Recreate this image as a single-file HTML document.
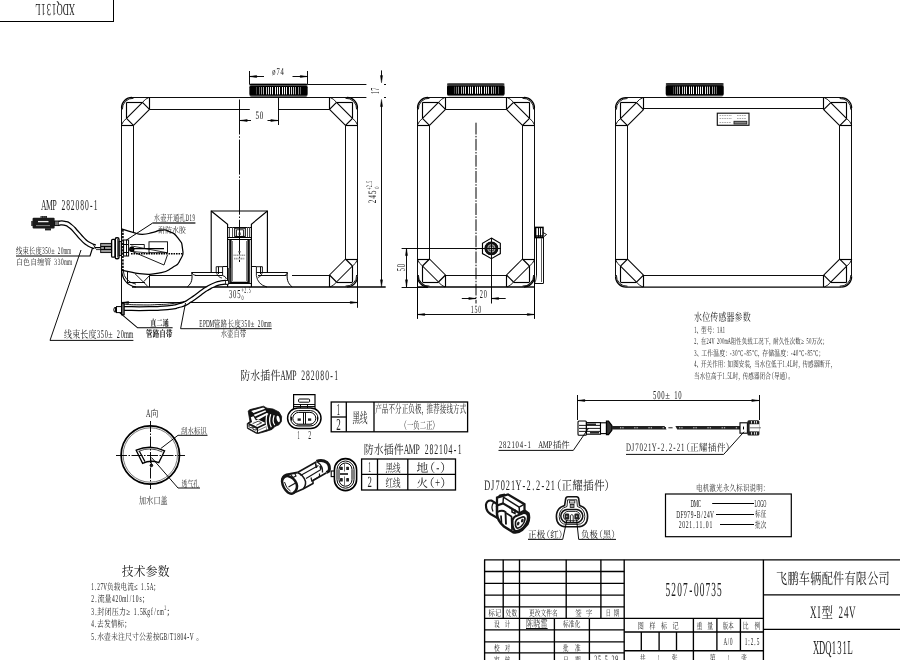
<!DOCTYPE html>
<html><head><meta charset="utf-8"><title>XDQ131L</title>
<style>html,body{margin:0;padding:0;background:#fff;overflow:hidden}svg{display:block}text{font-family:"Liberation Serif","Noto Serif CJK SC",serif;text-rendering:geometricPrecision}svg{will-change:transform}</style>
</head><body>
<svg width="900" height="660" viewBox="0 0 900 660" fill="none" stroke-linecap="butt" stroke-linejoin="miter">
<rect x="0" y="0" width="900" height="660" fill="#fff" stroke="none"/>
<path d="M149.50 97.40L149.50 109.40" stroke="#000" stroke-width="1.15" />
<path d="M121.50 125.50L133.50 125.50" stroke="#000" stroke-width="1.15" />
<path d="M149.50 109.40L133.50 125.40" stroke="#000" stroke-width="1.05" />
<path d="M142.50 102.40L126.50 118.40" stroke="#000" stroke-width="1.05" />
<path d="M142.50 102.40L149.50 109.40" stroke="#000" stroke-width="1.15" />
<path d="M126.50 118.40L133.50 125.40" stroke="#000" stroke-width="1.15" />
<path d="M126.50 102.50L142.50 102.50" stroke="#000" stroke-width="1.15" />
<path d="M126.50 102.40L126.50 118.40" stroke="#000" stroke-width="1.15" />
<path d="M121.50 107.90A10.5 10.5 0 0 1 132.00 97.40" stroke="#000" stroke-width="1.15" fill="none" />
<path d="M142.50 102.40Q145.00 98.90 149.00 97.40" stroke="#000" stroke-width="0.9" fill="none" />
<path d="M126.50 118.40Q123.00 120.90 121.50 124.90" stroke="#000" stroke-width="0.9" fill="none" />
<path d="M122.40 109.40A10.5 10.5 0 0 1 133.50 98.30" stroke="#000" stroke-width="0.9" fill="none" />
<path d="M329.50 97.40L329.50 109.40" stroke="#000" stroke-width="1.15" />
<path d="M357.50 125.50L345.50 125.50" stroke="#000" stroke-width="1.15" />
<path d="M329.50 109.40L345.50 125.40" stroke="#000" stroke-width="1.05" />
<path d="M336.50 102.40L352.50 118.40" stroke="#000" stroke-width="1.05" />
<path d="M336.50 102.40L329.50 109.40" stroke="#000" stroke-width="1.15" />
<path d="M352.50 118.40L345.50 125.40" stroke="#000" stroke-width="1.15" />
<path d="M352.50 102.50L336.50 102.50" stroke="#000" stroke-width="1.15" />
<path d="M352.50 102.40L352.50 118.40" stroke="#000" stroke-width="1.15" />
<path d="M357.50 107.90A10.5 10.5 0 0 0 347.00 97.40" stroke="#000" stroke-width="1.15" fill="none" />
<path d="M336.50 102.40Q334.00 98.90 330.00 97.40" stroke="#000" stroke-width="0.9" fill="none" />
<path d="M352.50 118.40Q356.00 120.90 357.50 124.90" stroke="#000" stroke-width="0.9" fill="none" />
<path d="M356.60 109.40A10.5 10.5 0 0 0 345.50 98.30" stroke="#000" stroke-width="0.9" fill="none" />
<path d="M329.50 287.00L329.50 275.00" stroke="#000" stroke-width="1.15" />
<path d="M357.50 259.50L345.50 259.50" stroke="#000" stroke-width="1.15" />
<path d="M329.50 275.00L345.50 259.00" stroke="#000" stroke-width="1.05" />
<path d="M336.50 282.00L352.50 266.00" stroke="#000" stroke-width="1.05" />
<path d="M336.50 282.00L329.50 275.00" stroke="#000" stroke-width="1.15" />
<path d="M352.50 266.00L345.50 259.00" stroke="#000" stroke-width="1.15" />
<path d="M352.50 282.50L336.50 282.50" stroke="#000" stroke-width="1.15" />
<path d="M352.50 282.00L352.50 266.00" stroke="#000" stroke-width="1.15" />
<path d="M357.50 276.50A10.5 10.5 0 0 1 347.00 287.00" stroke="#000" stroke-width="1.15" fill="none" />
<path d="M336.50 282.00Q334.00 285.50 330.00 287.00" stroke="#000" stroke-width="0.9" fill="none" />
<path d="M352.50 266.00Q356.00 263.50 357.50 259.50" stroke="#000" stroke-width="0.9" fill="none" />
<path d="M356.60 275.00A10.5 10.5 0 0 1 345.50 286.10" stroke="#000" stroke-width="0.9" fill="none" />
<path d="M132.00 97.50L347.00 97.50" stroke="#000" stroke-width="0.95" />
<path d="M357.50 107.90L357.50 276.50" stroke="#000" stroke-width="0.95" />
<path d="M121.50 107.90L121.50 303.80" stroke="#000" stroke-width="0.95" />
<path d="M132.00 287.00L385.70 287.00" stroke="#000" stroke-width="1.45" />
<path d="M357.50 276.50L357.50 307.80" stroke="#000" stroke-width="0.95" />
<path d="M149.50 109.50L249.80 109.50" stroke="#000" stroke-width="0.95" />
<path d="M278.00 109.50L329.50 109.50" stroke="#000" stroke-width="0.95" />
<path d="M345.50 125.40L345.50 259.00" stroke="#000" stroke-width="0.95" />
<path d="M133.50 125.40L133.50 232.00" stroke="#000" stroke-width="0.95" />
<path d="M329.50 275.50L292.00 275.50" stroke="#000" stroke-width="0.95" />
<path d="M149.40 275.50L191.70 275.50" stroke="#000" stroke-width="0.95" />
<rect x="249.50" y="83.80" width="58.00" height="13.10" rx="2" stroke="#000" stroke-width="0" fill="#666"/>
<rect x="249.50" y="83.70" width="58.00" height="1.20" rx="0.5" stroke="#000" stroke-width="0" fill="#000"/>
<rect x="249.50" y="85.70" width="58.00" height="9.90" rx="1.6" stroke="#000" stroke-width="0" fill="#000"/>
<path d="M256.50 87.00L256.50 94.40" stroke="#474747" stroke-width="1.0" />
<path d="M259.50 87.00L259.50 94.40" stroke="#737373" stroke-width="1.0" />
<path d="M261.50 87.00L261.50 94.40" stroke="#989898" stroke-width="1.0" />
<path d="M263.50 87.00L263.50 94.40" stroke="#b7b7b7" stroke-width="1.0" />
<path d="M266.50 87.00L266.50 94.40" stroke="#cfcfcf" stroke-width="1.0" />
<path d="M268.50 87.00L268.50 94.40" stroke="#e1e1e1" stroke-width="1.0" />
<path d="M270.50 87.00L270.50 94.40" stroke="#eeeeee" stroke-width="1.0" />
<path d="M272.50 87.00L272.50 94.40" stroke="#f7f7f7" stroke-width="1.0" />
<path d="M275.50 87.00L275.50 94.40" stroke="#fcfcfc" stroke-width="1.0" />
<path d="M277.50 87.00L277.50 94.40" stroke="#fefefe" stroke-width="1.0" />
<path d="M279.50 87.00L279.50 94.40" stroke="#fefefe" stroke-width="1.0" />
<path d="M282.50 87.00L282.50 94.40" stroke="#fefefe" stroke-width="1.0" />
<path d="M284.50 87.00L284.50 94.40" stroke="#fbfbfb" stroke-width="1.0" />
<path d="M286.50 87.00L286.50 94.40" stroke="#f5f5f5" stroke-width="1.0" />
<path d="M289.50 87.00L289.50 94.40" stroke="#ebebeb" stroke-width="1.0" />
<path d="M291.50 87.00L291.50 94.40" stroke="#dddddd" stroke-width="1.0" />
<path d="M293.50 87.00L293.50 94.40" stroke="#c9c9c9" stroke-width="1.0" />
<path d="M295.50 87.00L295.50 94.40" stroke="#afafaf" stroke-width="1.0" />
<path d="M298.50 87.00L298.50 94.40" stroke="#8f8f8f" stroke-width="1.0" />
<path d="M300.50 87.00L300.50 94.40" stroke="#686868" stroke-width="1.0" />
<path d="M445.50 97.40L445.50 109.40" stroke="#000" stroke-width="1.15" />
<path d="M417.50 125.50L429.50 125.50" stroke="#000" stroke-width="1.15" />
<path d="M445.50 109.40L429.50 125.40" stroke="#000" stroke-width="1.05" />
<path d="M438.50 102.40L422.50 118.40" stroke="#000" stroke-width="1.05" />
<path d="M438.50 102.40L445.50 109.40" stroke="#000" stroke-width="1.15" />
<path d="M422.50 118.40L429.50 125.40" stroke="#000" stroke-width="1.15" />
<path d="M422.50 102.50L438.50 102.50" stroke="#000" stroke-width="1.15" />
<path d="M422.50 102.40L422.50 118.40" stroke="#000" stroke-width="1.15" />
<path d="M417.50 107.90A10.5 10.5 0 0 1 428.00 97.40" stroke="#000" stroke-width="1.15" fill="none" />
<path d="M438.50 102.40Q441.00 98.90 445.00 97.40" stroke="#000" stroke-width="0.9" fill="none" />
<path d="M422.50 118.40Q419.00 120.90 417.50 124.90" stroke="#000" stroke-width="0.9" fill="none" />
<path d="M418.40 109.40A10.5 10.5 0 0 1 429.50 98.30" stroke="#000" stroke-width="0.9" fill="none" />
<path d="M506.50 97.40L506.50 109.40" stroke="#000" stroke-width="1.15" />
<path d="M534.50 125.50L522.50 125.50" stroke="#000" stroke-width="1.15" />
<path d="M506.50 109.40L522.50 125.40" stroke="#000" stroke-width="1.05" />
<path d="M513.50 102.40L529.50 118.40" stroke="#000" stroke-width="1.05" />
<path d="M513.50 102.40L506.50 109.40" stroke="#000" stroke-width="1.15" />
<path d="M529.50 118.40L522.50 125.40" stroke="#000" stroke-width="1.15" />
<path d="M529.50 102.50L513.50 102.50" stroke="#000" stroke-width="1.15" />
<path d="M529.50 102.40L529.50 118.40" stroke="#000" stroke-width="1.15" />
<path d="M534.50 107.90A10.5 10.5 0 0 0 524.00 97.40" stroke="#000" stroke-width="1.15" fill="none" />
<path d="M513.50 102.40Q511.00 98.90 507.00 97.40" stroke="#000" stroke-width="0.9" fill="none" />
<path d="M529.50 118.40Q533.00 120.90 534.50 124.90" stroke="#000" stroke-width="0.9" fill="none" />
<path d="M533.60 109.40A10.5 10.5 0 0 0 522.50 98.30" stroke="#000" stroke-width="0.9" fill="none" />
<path d="M506.50 287.00L506.50 275.00" stroke="#000" stroke-width="1.15" />
<path d="M534.50 259.50L522.50 259.50" stroke="#000" stroke-width="1.15" />
<path d="M506.50 275.00L522.50 259.00" stroke="#000" stroke-width="1.05" />
<path d="M513.50 282.00L529.50 266.00" stroke="#000" stroke-width="1.05" />
<path d="M513.50 282.00L506.50 275.00" stroke="#000" stroke-width="1.15" />
<path d="M529.50 266.00L522.50 259.00" stroke="#000" stroke-width="1.15" />
<path d="M529.50 282.50L513.50 282.50" stroke="#000" stroke-width="1.15" />
<path d="M529.50 282.00L529.50 266.00" stroke="#000" stroke-width="1.15" />
<path d="M534.50 276.50A10.5 10.5 0 0 1 524.00 287.00" stroke="#000" stroke-width="1.15" fill="none" />
<path d="M513.50 282.00Q511.00 285.50 507.00 287.00" stroke="#000" stroke-width="0.9" fill="none" />
<path d="M529.50 266.00Q533.00 263.50 534.50 259.50" stroke="#000" stroke-width="0.9" fill="none" />
<path d="M533.60 275.00A10.5 10.5 0 0 1 522.50 286.10" stroke="#000" stroke-width="0.9" fill="none" />
<path d="M445.50 287.00L445.50 275.00" stroke="#000" stroke-width="1.15" />
<path d="M417.50 259.50L429.50 259.50" stroke="#000" stroke-width="1.15" />
<path d="M445.50 275.00L429.50 259.00" stroke="#000" stroke-width="1.05" />
<path d="M438.50 282.00L422.50 266.00" stroke="#000" stroke-width="1.05" />
<path d="M438.50 282.00L445.50 275.00" stroke="#000" stroke-width="1.15" />
<path d="M422.50 266.00L429.50 259.00" stroke="#000" stroke-width="1.15" />
<path d="M422.50 282.50L438.50 282.50" stroke="#000" stroke-width="1.15" />
<path d="M422.50 282.00L422.50 266.00" stroke="#000" stroke-width="1.15" />
<path d="M417.50 276.50A10.5 10.5 0 0 0 428.00 287.00" stroke="#000" stroke-width="1.15" fill="none" />
<path d="M438.50 282.00Q441.00 285.50 445.00 287.00" stroke="#000" stroke-width="0.9" fill="none" />
<path d="M422.50 266.00Q419.00 263.50 417.50 259.50" stroke="#000" stroke-width="0.9" fill="none" />
<path d="M418.40 275.00A10.5 10.5 0 0 0 429.50 286.10" stroke="#000" stroke-width="0.9" fill="none" />
<path d="M428.00 97.50L524.00 97.50" stroke="#000" stroke-width="0.95" />
<path d="M428.00 287.00L524.00 287.00" stroke="#000" stroke-width="1.45" />
<path d="M417.50 107.90L417.50 276.50" stroke="#000" stroke-width="0.95" />
<path d="M534.50 107.90L534.50 276.50" stroke="#000" stroke-width="0.95" />
<path d="M445.50 109.50L506.50 109.50" stroke="#000" stroke-width="0.95" />
<path d="M445.50 275.50L506.50 275.50" stroke="#000" stroke-width="0.95" />
<path d="M429.50 125.40L429.50 259.00" stroke="#000" stroke-width="0.95" />
<path d="M522.50 125.40L522.50 259.00" stroke="#000" stroke-width="0.95" />
<rect x="447.00" y="83.50" width="57.50" height="12.80" rx="2" stroke="#000" stroke-width="0" fill="#666"/>
<rect x="447.00" y="83.40" width="57.50" height="1.20" rx="0.5" stroke="#000" stroke-width="0" fill="#000"/>
<rect x="447.00" y="85.40" width="57.50" height="9.60" rx="1.6" stroke="#000" stroke-width="0" fill="#000"/>
<path d="M454.50 86.70L454.50 93.80" stroke="#484848" stroke-width="1.0" />
<path d="M456.50 86.70L456.50 93.80" stroke="#747474" stroke-width="1.0" />
<path d="M458.50 86.70L458.50 93.80" stroke="#9a9a9a" stroke-width="1.0" />
<path d="M461.50 86.70L461.50 93.80" stroke="#b8b8b8" stroke-width="1.0" />
<path d="M463.50 86.70L463.50 93.80" stroke="#d0d0d0" stroke-width="1.0" />
<path d="M465.50 86.70L465.50 93.80" stroke="#e2e2e2" stroke-width="1.0" />
<path d="M468.50 86.70L468.50 93.80" stroke="#efefef" stroke-width="1.0" />
<path d="M470.50 86.70L470.50 93.80" stroke="#f8f8f8" stroke-width="1.0" />
<path d="M472.50 86.70L472.50 93.80" stroke="#fcfcfc" stroke-width="1.0" />
<path d="M475.50 86.70L475.50 93.80" stroke="#fefefe" stroke-width="1.0" />
<path d="M477.50 86.70L477.50 93.80" stroke="#fefefe" stroke-width="1.0" />
<path d="M479.50 86.70L479.50 93.80" stroke="#fefefe" stroke-width="1.0" />
<path d="M481.50 86.70L481.50 93.80" stroke="#fbfbfb" stroke-width="1.0" />
<path d="M484.50 86.70L484.50 93.80" stroke="#f4f4f4" stroke-width="1.0" />
<path d="M486.50 86.70L486.50 93.80" stroke="#eaeaea" stroke-width="1.0" />
<path d="M488.50 86.70L488.50 93.80" stroke="#dadada" stroke-width="1.0" />
<path d="M491.50 86.70L491.50 93.80" stroke="#c5c5c5" stroke-width="1.0" />
<path d="M493.50 86.70L493.50 93.80" stroke="#aaaaaa" stroke-width="1.0" />
<path d="M495.50 86.70L495.50 93.80" stroke="#898989" stroke-width="1.0" />
<path d="M498.50 86.70L498.50 93.80" stroke="#606060" stroke-width="1.0" />
<path d="M417.50 276.50L417.50 287.00" stroke="#000" stroke-width="0.95" />
<path d="M534.50 276.50L534.50 287.00" stroke="#000" stroke-width="0.95" />
<path d="M417.50 287.00L428.00 287.00" stroke="#000" stroke-width="1.45" />
<path d="M524.00 287.00L534.50 287.00" stroke="#000" stroke-width="1.45" />
<path d="M643.50 97.60L643.50 109.60" stroke="#000" stroke-width="1.15" />
<path d="M615.50 125.50L627.50 125.50" stroke="#000" stroke-width="1.15" />
<path d="M643.50 109.60L627.50 125.60" stroke="#000" stroke-width="1.05" />
<path d="M636.50 102.60L620.50 118.60" stroke="#000" stroke-width="1.05" />
<path d="M636.50 102.60L643.50 109.60" stroke="#000" stroke-width="1.15" />
<path d="M620.50 118.60L627.50 125.60" stroke="#000" stroke-width="1.15" />
<path d="M620.50 102.50L636.50 102.50" stroke="#000" stroke-width="1.15" />
<path d="M620.50 102.60L620.50 118.60" stroke="#000" stroke-width="1.15" />
<path d="M615.50 108.10A10.5 10.5 0 0 1 626.00 97.60" stroke="#000" stroke-width="1.15" fill="none" />
<path d="M636.50 102.60Q639.00 99.10 643.00 97.60" stroke="#000" stroke-width="0.9" fill="none" />
<path d="M620.50 118.60Q617.00 121.10 615.50 125.10" stroke="#000" stroke-width="0.9" fill="none" />
<path d="M616.40 109.60A10.5 10.5 0 0 1 627.50 98.50" stroke="#000" stroke-width="0.9" fill="none" />
<path d="M823.50 97.60L823.50 109.60" stroke="#000" stroke-width="1.15" />
<path d="M851.70 125.50L839.70 125.50" stroke="#000" stroke-width="1.15" />
<path d="M823.70 109.60L839.70 125.60" stroke="#000" stroke-width="1.05" />
<path d="M830.70 102.60L846.70 118.60" stroke="#000" stroke-width="1.05" />
<path d="M830.70 102.60L823.70 109.60" stroke="#000" stroke-width="1.15" />
<path d="M846.70 118.60L839.70 125.60" stroke="#000" stroke-width="1.15" />
<path d="M846.70 102.50L830.70 102.50" stroke="#000" stroke-width="1.15" />
<path d="M846.50 102.60L846.50 118.60" stroke="#000" stroke-width="1.15" />
<path d="M851.70 108.10A10.5 10.5 0 0 0 841.20 97.60" stroke="#000" stroke-width="1.15" fill="none" />
<path d="M830.70 102.60Q828.20 99.10 824.20 97.60" stroke="#000" stroke-width="0.9" fill="none" />
<path d="M846.70 118.60Q850.20 121.10 851.70 125.10" stroke="#000" stroke-width="0.9" fill="none" />
<path d="M850.80 109.60A10.5 10.5 0 0 0 839.70 98.50" stroke="#000" stroke-width="0.9" fill="none" />
<path d="M823.50 287.10L823.50 275.10" stroke="#000" stroke-width="1.15" />
<path d="M851.70 259.50L839.70 259.50" stroke="#000" stroke-width="1.15" />
<path d="M823.70 275.10L839.70 259.10" stroke="#000" stroke-width="1.05" />
<path d="M830.70 282.10L846.70 266.10" stroke="#000" stroke-width="1.05" />
<path d="M830.70 282.10L823.70 275.10" stroke="#000" stroke-width="1.15" />
<path d="M846.70 266.10L839.70 259.10" stroke="#000" stroke-width="1.15" />
<path d="M846.70 282.50L830.70 282.50" stroke="#000" stroke-width="1.15" />
<path d="M846.50 282.10L846.50 266.10" stroke="#000" stroke-width="1.15" />
<path d="M851.70 276.60A10.5 10.5 0 0 1 841.20 287.10" stroke="#000" stroke-width="1.15" fill="none" />
<path d="M830.70 282.10Q828.20 285.60 824.20 287.10" stroke="#000" stroke-width="0.9" fill="none" />
<path d="M846.70 266.10Q850.20 263.60 851.70 259.60" stroke="#000" stroke-width="0.9" fill="none" />
<path d="M850.80 275.10A10.5 10.5 0 0 1 839.70 286.20" stroke="#000" stroke-width="0.9" fill="none" />
<path d="M643.50 287.10L643.50 275.10" stroke="#000" stroke-width="1.15" />
<path d="M615.50 259.50L627.50 259.50" stroke="#000" stroke-width="1.15" />
<path d="M643.50 275.10L627.50 259.10" stroke="#000" stroke-width="1.05" />
<path d="M636.50 282.10L620.50 266.10" stroke="#000" stroke-width="1.05" />
<path d="M636.50 282.10L643.50 275.10" stroke="#000" stroke-width="1.15" />
<path d="M620.50 266.10L627.50 259.10" stroke="#000" stroke-width="1.15" />
<path d="M620.50 282.50L636.50 282.50" stroke="#000" stroke-width="1.15" />
<path d="M620.50 282.10L620.50 266.10" stroke="#000" stroke-width="1.15" />
<path d="M615.50 276.60A10.5 10.5 0 0 0 626.00 287.10" stroke="#000" stroke-width="1.15" fill="none" />
<path d="M636.50 282.10Q639.00 285.60 643.00 287.10" stroke="#000" stroke-width="0.9" fill="none" />
<path d="M620.50 266.10Q617.00 263.60 615.50 259.60" stroke="#000" stroke-width="0.9" fill="none" />
<path d="M616.40 275.10A10.5 10.5 0 0 0 627.50 286.20" stroke="#000" stroke-width="0.9" fill="none" />
<path d="M626.00 97.50L841.20 97.50" stroke="#000" stroke-width="0.95" />
<path d="M626.00 287.10L841.20 287.10" stroke="#000" stroke-width="1.45" />
<path d="M615.50 108.10L615.50 276.60" stroke="#000" stroke-width="0.95" />
<path d="M851.50 108.10L851.50 276.60" stroke="#000" stroke-width="0.95" />
<path d="M643.50 108.50L823.70 108.50" stroke="#000" stroke-width="0.95" />
<path d="M643.50 275.50L823.70 275.50" stroke="#000" stroke-width="0.95" />
<path d="M627.50 125.60L627.50 259.10" stroke="#000" stroke-width="0.95" />
<path d="M839.50 125.60L839.50 259.10" stroke="#000" stroke-width="0.95" />
<rect x="665.80" y="83.40" width="57.80" height="13.20" rx="2" stroke="#000" stroke-width="0" fill="#666"/>
<rect x="665.80" y="83.30" width="57.80" height="1.20" rx="0.5" stroke="#000" stroke-width="0" fill="#000"/>
<rect x="665.80" y="85.30" width="57.80" height="10.00" rx="1.6" stroke="#000" stroke-width="0" fill="#000"/>
<path d="M673.50 86.60L673.50 94.10" stroke="#474747" stroke-width="1.0" />
<path d="M675.50 86.60L675.50 94.10" stroke="#747474" stroke-width="1.0" />
<path d="M677.50 86.60L677.50 94.10" stroke="#999999" stroke-width="1.0" />
<path d="M679.50 86.60L679.50 94.10" stroke="#b7b7b7" stroke-width="1.0" />
<path d="M682.50 86.60L682.50 94.10" stroke="#cfcfcf" stroke-width="1.0" />
<path d="M684.50 86.60L684.50 94.10" stroke="#e2e2e2" stroke-width="1.0" />
<path d="M686.50 86.60L686.50 94.10" stroke="#efefef" stroke-width="1.0" />
<path d="M689.50 86.60L689.50 94.10" stroke="#f7f7f7" stroke-width="1.0" />
<path d="M691.50 86.60L691.50 94.10" stroke="#fcfcfc" stroke-width="1.0" />
<path d="M693.50 86.60L693.50 94.10" stroke="#fefefe" stroke-width="1.0" />
<path d="M696.50 86.60L696.50 94.10" stroke="#fefefe" stroke-width="1.0" />
<path d="M698.50 86.60L698.50 94.10" stroke="#fefefe" stroke-width="1.0" />
<path d="M700.50 86.60L700.50 94.10" stroke="#fbfbfb" stroke-width="1.0" />
<path d="M702.50 86.60L702.50 94.10" stroke="#f5f5f5" stroke-width="1.0" />
<path d="M705.50 86.60L705.50 94.10" stroke="#ebebeb" stroke-width="1.0" />
<path d="M707.50 86.60L707.50 94.10" stroke="#dcdcdc" stroke-width="1.0" />
<path d="M709.50 86.60L709.50 94.10" stroke="#c8c8c8" stroke-width="1.0" />
<path d="M712.50 86.60L712.50 94.10" stroke="#adadad" stroke-width="1.0" />
<path d="M714.50 86.60L714.50 94.10" stroke="#8d8d8d" stroke-width="1.0" />
<path d="M716.50 86.60L716.50 94.10" stroke="#656565" stroke-width="1.0" />
<rect x="717.30" y="113.20" width="31.70" height="12.10" rx="0" stroke="#111" stroke-width="1.15" fill="none"/>
<rect x="734.00" y="121.30" width="12.80" height="2.70" rx="0" stroke="#222" stroke-width="0.9" fill="#888"/>
<path d="M719.50 115.50L732.00 115.50" stroke="#aaa" stroke-width="1.0" stroke-dasharray="1.6 0.8"/>
<path d="M737.00 115.50L746.00 115.50" stroke="#aaa" stroke-width="1.0" stroke-dasharray="1.6 0.8"/>
<path d="M719.50 118.50L732.00 118.50" stroke="#aaa" stroke-width="1.0" stroke-dasharray="1.6 0.8"/>
<path d="M737.00 118.50L746.00 118.50" stroke="#aaa" stroke-width="1.0" stroke-dasharray="1.6 0.8"/>
<path d="M719.50 122.50L731.00 122.50" stroke="#aaa" stroke-width="1.0" stroke-dasharray="1.6 0.8"/>
<path d="M249.50 71.00L249.50 84.40" stroke="#000" stroke-width="0.95" />
<path d="M307.50 71.00L307.50 84.40" stroke="#000" stroke-width="0.95" />
<path d="M249.50 76.50L264.00 76.50" stroke="#000" stroke-width="0.95" />
<path d="M292.50 76.50L307.50 76.50" stroke="#000" stroke-width="0.95" />
<path d="M249.50 76.50L256.70 75.45L256.70 77.55Z" fill="#000" stroke="#000" stroke-width="0.45" stroke-linejoin="miter"/>
<path d="M307.50 76.50L300.30 77.55L300.30 75.45Z" fill="#000" stroke="#000" stroke-width="0.45" stroke-linejoin="miter"/>
<path d="M307.50 84.50L366.40 84.50" stroke="#000" stroke-width="0.95" />
<path d="M347.00 97.50L366.40 97.50" stroke="#000" stroke-width="0.95" />
<path d="M381.50 70.40L381.50 80.00" stroke="#000" stroke-width="0.95" />
<path d="M381.50 82.80L380.45 75.60L382.55 75.60Z" fill="#000" stroke="#000" stroke-width="0.45" stroke-linejoin="miter"/>
<path d="M381.50 102.00L381.50 283.00" stroke="#000" stroke-width="0.95" />
<path d="M381.50 99.40L382.55 106.60L380.45 106.60Z" fill="#000" stroke="#000" stroke-width="0.45" stroke-linejoin="miter"/>
<path d="M381.50 287.00L380.45 279.80L382.55 279.80Z" fill="#000" stroke="#000" stroke-width="0.45" stroke-linejoin="miter"/>
<path d="M384.00 84.50L386.00 84.50" stroke="#000" stroke-width="0.95" />
<path d="M384.00 97.50L386.00 97.50" stroke="#000" stroke-width="0.95" />
<path d="M239.50 99.50L239.50 262.00" stroke="#000" stroke-width="0.95" stroke-dasharray="35 1.8 1.5 1.8"/>
<path d="M278.50 97.40L278.50 125.00" stroke="#000" stroke-width="0.95" />
<path d="M240.00 120.50L251.00 120.50" stroke="#000" stroke-width="0.95" />
<path d="M267.50 120.50L278.00 120.50" stroke="#000" stroke-width="0.95" />
<path d="M240.00 120.50L247.20 119.45L247.20 121.55Z" fill="#000" stroke="#000" stroke-width="0.45" stroke-linejoin="miter"/>
<path d="M278.00 120.50L270.80 121.55L270.80 119.45Z" fill="#000" stroke="#000" stroke-width="0.45" stroke-linejoin="miter"/>
<path d="M121.50 302.50L357.50 302.50" stroke="#000" stroke-width="0.95" />
<path d="M121.50 302.50L128.70 301.45L128.70 303.55Z" fill="#000" stroke="#000" stroke-width="0.45" stroke-linejoin="miter"/>
<path d="M357.50 302.50L350.30 303.55L350.30 301.45Z" fill="#000" stroke="#000" stroke-width="0.45" stroke-linejoin="miter"/>
<path d="M476.00 122.70L476.00 303.50" stroke="#000" stroke-width="1.0" stroke-dasharray="11.8 1.4 1.5 1.4"/>
<path d="M401.60 248.50L501.00 248.50" stroke="#000" stroke-width="0.95" />
<path d="M401.60 287.50L428.00 287.50" stroke="#000" stroke-width="0.95" />
<path d="M406.50 248.40L406.50 287.00" stroke="#000" stroke-width="0.95" />
<path d="M406.50 248.40L407.55 255.60L405.45 255.60Z" fill="#000" stroke="#000" stroke-width="0.45" stroke-linejoin="miter"/>
<path d="M406.50 287.00L405.45 279.80L407.55 279.80Z" fill="#000" stroke="#000" stroke-width="0.45" stroke-linejoin="miter"/>
<path d="M491.50 238.00L491.50 303.50" stroke="#000" stroke-width="0.95" />
<path d="M461.80 298.50L476.00 298.50" stroke="#000" stroke-width="0.95" />
<path d="M491.40 298.50L505.70 298.50" stroke="#000" stroke-width="0.95" />
<path d="M476.00 298.50L468.80 299.55L468.80 297.45Z" fill="#000" stroke="#000" stroke-width="0.45" stroke-linejoin="miter"/>
<path d="M491.40 298.50L498.60 297.45L498.60 299.55Z" fill="#000" stroke="#000" stroke-width="0.45" stroke-linejoin="miter"/>
<path d="M417.50 276.00L417.50 318.90" stroke="#000" stroke-width="1.0" />
<path d="M534.50 276.00L534.50 318.90" stroke="#000" stroke-width="1.0" />
<path d="M417.50 314.50L534.50 314.50" stroke="#000" stroke-width="0.95" />
<path d="M417.50 314.50L424.70 313.45L424.70 315.55Z" fill="#000" stroke="#000" stroke-width="0.45" stroke-linejoin="miter"/>
<path d="M534.50 314.50L527.30 315.55L527.30 313.45Z" fill="#000" stroke="#000" stroke-width="0.45" stroke-linejoin="miter"/>
<path d="M577.50 395.00L577.50 420.00" stroke="#000" stroke-width="0.95" />
<path d="M759.50 395.00L759.50 420.00" stroke="#000" stroke-width="0.95" />
<path d="M577.60 400.50L759.00 400.50" stroke="#000" stroke-width="0.95" />
<path d="M577.60 400.50L584.80 399.45L584.80 401.55Z" fill="#000" stroke="#000" stroke-width="0.45" stroke-linejoin="miter"/>
<path d="M759.00 400.50L751.80 401.55L751.80 399.45Z" fill="#000" stroke="#000" stroke-width="0.45" stroke-linejoin="miter"/>
<path d="M121.5 268 Q121.8 284.5 136 287.0" stroke="#000" stroke-width="1.15" fill="none" />
<path d="M123.2 270.5 Q124 281.5 136 284.2" stroke="#000" stroke-width="0.9" fill="none" />
<path d="M127.50 271.70L127.50 282.30" stroke="#000" stroke-width="0.95" />
<path d="M127.00 282.50L145.00 282.50" stroke="#000" stroke-width="0.95" />
<path d="M135.00 273.70L147.70 286.30" stroke="#000" stroke-width="0.9" />
<path d="M149.40 275.70L143.70 281.70" stroke="#000" stroke-width="0.9" />
<path d="M149.50 275.50L149.50 287.00" stroke="#000" stroke-width="0.95" />
<path d="M121.50 228.90C125.33 230.03 126.07 230.50 133.00 232.30C139.93 234.10 135.57 234.30 142.30 234.30C149.03 234.30 146.87 233.67 153.20 232.30C159.53 230.93 155.87 230.43 161.30 230.20C166.73 229.97 164.03 229.10 169.50 231.60C174.97 234.10 173.37 232.03 177.70 237.70C182.03 243.37 181.60 241.33 182.50 248.60C183.40 255.87 183.83 253.13 180.40 259.50C176.97 265.87 179.47 263.13 172.20 267.70C164.93 272.27 168.57 271.17 158.60 273.20C148.63 275.23 151.83 274.27 142.30 273.80C132.77 273.33 136.83 273.00 130.00 271.80C123.17 270.60 124.53 270.73 121.80 270.20" stroke="#000" stroke-width="1.25" fill="none" />
<path d="M122.90 229.50L122.90 270.40" stroke="#000" stroke-width="1.6" stroke-dasharray="2.2 1.1"/>
<rect x="100.70" y="243.40" width="10.90" height="9.20" rx="0" stroke="#000" stroke-width="0.9" fill="#999"/>
<path d="M100.70 246.50L111.60 246.50" stroke="#000" stroke-width="0.95" />
<path d="M100.70 249.50L111.60 249.50" stroke="#000" stroke-width="0.95" />
<path d="M104.50 246.20L104.50 249.80" stroke="#000" stroke-width="1.2" />
<rect x="111.60" y="239.40" width="3.60" height="17.80" rx="1.2" stroke="#000" stroke-width="1.3" fill="none"/>
<rect x="115.20" y="237.80" width="3.80" height="21.00" rx="1.6" stroke="#000" stroke-width="1.4" fill="none"/>
<path d="M117.50 239.00L117.50 257.50" stroke="#555" stroke-width="0.95" />
<rect x="119.00" y="241.50" width="2.20" height="14.00" rx="0" stroke="#000" stroke-width="0.9" fill="none"/>
<rect x="123.60" y="240.00" width="5.00" height="16.00" rx="0" stroke="#000" stroke-width="1.0" fill="none"/>
<path d="M123.60 244.50L128.60 244.50" stroke="#000" stroke-width="0.95" />
<path d="M123.60 252.50L128.60 252.50" stroke="#000" stroke-width="0.95" />
<path d="M126.50 240.00L126.50 256.00" stroke="#000" stroke-width="0.95" />
<path d="M94.00 247.60L100.70 247.60" stroke="#000" stroke-width="1.2" />
<path d="M96.00 249.60L100.70 249.60" stroke="#000" stroke-width="0.8" />
<circle cx="131.80" cy="249.20" r="2.00" stroke="#000" stroke-width="1.4" fill="#222"/>
<path d="M130.00 244.50L144.30 244.50L144.30 248.20" stroke="#000" stroke-width="0.9" fill="none" />
<rect x="149.00" y="241.80" width="18.50" height="10.90" rx="0" stroke="#000" stroke-width="0.9" fill="none"/>
<path d="M131.00 248.60L164.00 248.60" stroke="#000" stroke-width="1.3" />
<path d="M131.00 253.80L182.50 253.80" stroke="#000" stroke-width="1.5" stroke-dasharray="1.6 0.9"/>
<path d="M131.30 245.90L166.80 252.70" stroke="#000" stroke-width="0.8" fill="none" />
<path d="M130.00 250.50L164.00 265.00L167.50 254.80" stroke="#000" stroke-width="0.9" fill="none" />
<path d="M133.00 251.50L150.00 253.20" stroke="#000" stroke-width="0.8" fill="none" />
<path d="M152.70 223.00L195.40 223.00" stroke="#333" stroke-width="1.3" />
<path d="M152.70 223.00L125.90 240.40" stroke="#000" stroke-width="1.0" fill="none" />
<path d="M211.20 272.70L211.20 211.00L267.40 211.00L267.40 272.70" stroke="#000" stroke-width="1.15" fill="none" />
<path d="M211.20 211.00L227.60 224.20L227.60 287.00" stroke="#000" stroke-width="1.15" fill="none" />
<path d="M267.40 211.00L251.40 224.20L251.40 287.00" stroke="#000" stroke-width="1.15" fill="none" />
<path d="M227.60 227.50L251.40 227.50" stroke="#000" stroke-width="0.95" />
<rect x="234.70" y="228.20" width="10.60" height="8.20" rx="0" stroke="#000" stroke-width="1.0" fill="none"/>
<rect x="236.60" y="229.80" width="6.80" height="6.60" rx="0" stroke="#000" stroke-width="0.8" fill="none"/>
<rect x="238.60" y="232.50" width="2.00" height="2.50" rx="0" stroke="#000" stroke-width="0" fill="#222"/>
<path d="M229.50 227.00L229.50 237.60" stroke="#444" stroke-width="0.95" />
<path d="M232.50 227.00L232.50 237.60" stroke="#444" stroke-width="0.95" />
<path d="M247.50 227.00L247.50 237.60" stroke="#444" stroke-width="0.95" />
<path d="M249.50 227.00L249.50 237.60" stroke="#444" stroke-width="0.95" />
<path d="M227.60 237.50L251.40 237.50" stroke="#000" stroke-width="1.0" />
<path d="M227.60 239.50L251.40 239.50" stroke="#000" stroke-width="1.0" />
<path d="M230.80 239.60L230.80 282.40L248.20 282.40L248.20 239.60" stroke="#000" stroke-width="1.5" fill="none" />
<path d="M229.50 239.60L229.50 283.00" stroke="#333" stroke-width="0.95" />
<path d="M249.50 239.60L249.50 283.00" stroke="#333" stroke-width="0.95" />
<path d="M232.50 241.00L232.50 281.00" stroke="#777" stroke-width="0.95" />
<path d="M246.50 241.00L246.50 281.00" stroke="#777" stroke-width="0.95" />
<path d="M227.60 283.50L251.40 283.50" stroke="#000" stroke-width="0.95" />
<rect x="228.00" y="268.00" width="2.40" height="14.00" rx="0" stroke="#000" stroke-width="0" fill="#444"/>
<path d="M238.00 251.80L241.00 251.80" stroke="#999" stroke-width="1.6" stroke-dasharray="1.2 0.5"/>
<path d="M233.50 255.20L245.50 255.20" stroke="#999" stroke-width="1.6" stroke-dasharray="1.2 0.5"/>
<path d="M234.00 258.60L244.50 258.60" stroke="#999" stroke-width="1.6" stroke-dasharray="1.2 0.5"/>
<path d="M216.20 272.70L216.20 266.70L222.60 266.70L222.60 275.50" stroke="#000" stroke-width="0.9" fill="none" />
<path d="M218.50 266.70L218.50 274.00" stroke="#000" stroke-width="0.95" />
<path d="M262.40 272.70L262.40 266.70L256.40 266.70L256.40 275.50" stroke="#000" stroke-width="0.9" fill="none" />
<path d="M260.50 266.70L260.50 274.00" stroke="#000" stroke-width="0.95" />
<path d="M191.70 272.50L223.00 272.50" stroke="#000" stroke-width="0.95" />
<path d="M195.00 275.50L222.60 275.50" stroke="#000" stroke-width="0.95" />
<path d="M191.7 272.5 Q193 275.5 196 275.5" stroke="#000" stroke-width="0.9" fill="none" />
<path d="M191.7 272.5 C192.6 279 192 283 187.2 287.0" stroke="#000" stroke-width="1.0" fill="none" />
<path d="M222.60 266.50L227.60 266.50" stroke="#000" stroke-width="0.95" />
<path d="M251.40 266.50L256.40 266.50" stroke="#000" stroke-width="0.95" />
<path d="M222.6 275.5 Q225.5 276 226.5 279" stroke="#000" stroke-width="0.9" fill="none" />
<path d="M216.5 272.7 Q218 277.5 222 278" stroke="#000" stroke-width="0.8" fill="none" />
<path d="M256.40 272.50L287.40 272.50" stroke="#000" stroke-width="0.95" />
<path d="M258.00 275.50L286.50 275.50" stroke="#000" stroke-width="0.95" />
<path d="M256.4 275.5 Q257.5 284.5 267 287.0" stroke="#000" stroke-width="0.9" fill="none" />
<path d="M262.4 272.7 Q261 277 258 277.5" stroke="#000" stroke-width="0.8" fill="none" />
<path d="M287.4 272.5 C286.6 279 287.4 283 292.2 287.0" stroke="#000" stroke-width="1.0" fill="none" />
<path d="M287.4 272.5 Q287 275 284.5 275.5" stroke="#000" stroke-width="0.8" fill="none" />
<path d="M228.00 282.40C225.67 282.53 225.67 281.93 221.00 282.80C216.33 283.67 218.33 283.27 214.00 285.00C209.67 286.73 211.67 285.90 208.00 288.00C204.33 290.10 207.00 288.47 203.00 291.30C199.00 294.13 200.33 293.43 196.00 296.50C191.67 299.57 193.67 298.13 190.00 300.50C186.33 302.87 189.00 301.80 185.00 303.60C181.00 305.40 182.43 304.67 178.00 305.90C173.57 307.13 177.70 306.50 171.70 307.30C165.70 308.10 167.43 307.87 160.00 308.30C152.57 308.73 161.40 308.50 149.40 308.60C137.40 308.70 132.47 308.60 124.00 308.60" stroke="#000" stroke-width="5.0" fill="none" />
<path d="M228.00 282.40C225.67 282.53 225.67 281.93 221.00 282.80C216.33 283.67 218.33 283.27 214.00 285.00C209.67 286.73 211.67 285.90 208.00 288.00C204.33 290.10 207.00 288.47 203.00 291.30C199.00 294.13 200.33 293.43 196.00 296.50C191.67 299.57 193.67 298.13 190.00 300.50C186.33 302.87 189.00 301.80 185.00 303.60C181.00 305.40 182.43 304.67 178.00 305.90C173.57 307.13 177.70 306.50 171.70 307.30C165.70 308.10 167.43 307.87 160.00 308.30C152.57 308.73 161.40 308.50 149.40 308.60C137.40 308.70 132.47 308.60 124.00 308.60" stroke="#fff" stroke-width="2.5" fill="none" />
<rect x="225.60" y="280.60" width="2.80" height="3.60" rx="0" stroke="#000" stroke-width="0.8" fill="#fff"/>
<path d="M123.80 304.20C129.20 304.43 128.60 304.77 140.00 304.90C151.40 305.03 147.33 305.03 158.00 304.60C168.67 304.17 163.33 304.60 172.00 303.60C180.67 302.60 180.00 302.27 184.00 301.60" stroke="#000" stroke-width="0.9" fill="none" />
<rect x="116.50" y="306.60" width="5.10" height="6.00" rx="0" stroke="#000" stroke-width="1.0" fill="#fff"/>
<rect x="121.50" y="303.60" width="2.70" height="11.20" rx="0" stroke="#000" stroke-width="1.0" fill="#666"/>
<path d="M116.5 307.4 L114.4 307.6 Q113.1 309.7 114.4 311.9 L116.5 312 Z" stroke="#000" stroke-width="1.0" fill="#fff" />
<path d="M115.50 307.60L115.50 311.90" stroke="#000" stroke-width="0.95" />
<path d="M119.60 312.60L137.60 327.80L172.60 327.80" stroke="#000" stroke-width="1.1" fill="none" />
<path d="M185.50 303.00L180.60 328.70L271.70 328.70" stroke="#000" stroke-width="0.95" fill="none" />
<path d="M16.00 256.00L90.00 256.00L93.00 246.50" stroke="#000" stroke-width="1.15" fill="none" />
<path d="M133.40 340.40L50.00 340.40L81.00 250.00" stroke="#000" stroke-width="0.95" fill="none" />
<rect x="32.60" y="217.80" width="22.00" height="10.80" rx="1" stroke="#000" stroke-width="0" fill="#1a1a1a"/>
<rect x="40.50" y="216.00" width="6.50" height="2.20" rx="0" stroke="#000" stroke-width="0" fill="#222"/>
<rect x="45.00" y="228.20" width="6.00" height="2.20" rx="0" stroke="#000" stroke-width="0" fill="#222"/>
<rect x="31.20" y="221.00" width="1.80" height="5.00" rx="0" stroke="#000" stroke-width="0" fill="#333"/>
<path d="M38.00 221.60L48.50 221.60" stroke="#eee" stroke-width="1.3" />
<path d="M36.00 225.60L50.00 225.60" stroke="#999" stroke-width="0.8" />
<path d="M41.00 217.00L46.50 217.00" stroke="#bbb" stroke-width="0.7" stroke-dasharray="1 0.8"/>
<rect x="54.60" y="221.00" width="4.20" height="4.60" rx="0" stroke="#000" stroke-width="0.9" fill="#777"/>
<path d="M58.80 223.30C60.70 223.27 60.60 222.23 64.50 223.20C68.40 224.17 66.50 223.17 70.50 226.20C74.50 229.23 72.50 228.03 76.50 232.30C80.50 236.57 78.50 235.10 82.50 239.00C86.50 242.90 84.33 241.40 88.50 244.00C92.67 246.60 92.83 245.87 95.00 246.80" stroke="#000" stroke-width="5.2" fill="none" />
<path d="M58.80 223.30C60.70 223.27 60.60 222.23 64.50 223.20C68.40 224.17 66.50 223.17 70.50 226.20C74.50 229.23 72.50 228.03 76.50 232.30C80.50 236.57 78.50 235.10 82.50 239.00C86.50 242.90 84.33 241.40 88.50 244.00C92.67 246.60 92.83 245.87 95.00 246.80" stroke="#fff" stroke-width="2.7" fill="none" />
<path d="M93.20 244.20L95.60 248.60" stroke="#000" stroke-width="0.9" fill="none" />
<path d="M491.40 238.10L500.32 243.25L500.32 253.55L491.40 258.70L482.48 253.55L482.48 243.25Z" stroke="#000" stroke-width="1.15" fill="#fff" />
<circle cx="491.40" cy="248.40" r="5.50" stroke="#111" stroke-width="2.9" fill="none"/>
<circle cx="491.40" cy="248.40" r="2.60" stroke="#555" stroke-width="1.4" fill="#bbb"/>
<circle cx="491.40" cy="248.40" r="3.90" stroke="#888" stroke-width="0.8" fill="none"/>
<path d="M481.40 248.50L500.60 248.50" stroke="#000" stroke-width="0.95" />
<path d="M491.50 238.10L491.50 258.70" stroke="#000" stroke-width="0.95" />
<circle cx="491.40" cy="248.40" r="5.50" stroke="#111" stroke-width="2.4" fill="none"/>
<rect x="535.60" y="227.40" width="7.40" height="10.20" rx="0" stroke="#000" stroke-width="1.5" fill="#fff"/>
<path d="M538.50 227.40L538.50 237.00" stroke="#000" stroke-width="0.95" />
<path d="M540.50 227.40L540.50 237.00" stroke="#000" stroke-width="0.95" />
<path d="M536.00 236.00L543.00 236.00" stroke="#000" stroke-width="1.4" />
<path d="M543.00 232.50L546.60 234.50L544.00 236.50" stroke="#000" stroke-width="0.9" fill="none" />
<path d="M536.50 237.00L536.50 275.00" stroke="#000" stroke-width="0.95" />
<path d="M543.50 237.00L543.50 283.40" stroke="#000" stroke-width="0.95" />
<path d="M541.50 238.00L541.50 282.00" stroke="#555" stroke-width="0.95" />
<path d="M536.6 275 Q536 281 534.5 283.4" stroke="#000" stroke-width="0.8" fill="none" />
<path d="M534.50 283.50L543.40 283.50" stroke="#000" stroke-width="0.95" />
<path d="M417.5 275.5 Q419 284 427.5 287.0" stroke="#000" stroke-width="0.8" fill="none" />
<path d="M534.5 275.5 Q533 284 524.5 287.0" stroke="#000" stroke-width="0.8" fill="none" />
<rect x="578.00" y="421.00" width="8.40" height="14.20" rx="1" stroke="#000" stroke-width="1.1" fill="#fff"/>
<rect x="586.40" y="422.60" width="14.10" height="11.60" rx="0" stroke="#000" stroke-width="1.1" fill="#fff"/>
<path d="M579.00 425.40L600.00 425.40" stroke="#000" stroke-width="0.9" />
<path d="M579.00 428.40L600.00 428.40" stroke="#000" stroke-width="0.9" />
<path d="M579.00 431.40L600.00 431.40" stroke="#000" stroke-width="0.9" />
<path d="M586.40 424.20L596.00 424.20" stroke="#000" stroke-width="1.3" />
<path d="M590.00 432.80L599.00 432.80" stroke="#000" stroke-width="1.3" />
<rect x="600.50" y="422.80" width="6.00" height="10.80" rx="0" stroke="#000" stroke-width="1.1" fill="#fff"/>
<path d="M606.50 421.20L608.50 421.20L611.80 425.50L611.80 430.40L608.50 434.60L606.50 434.60Z" stroke="#000" stroke-width="1.3" fill="#333" />
<path d="M611.80 426.10L664.50 426.10L666.60 429.60L611.80 429.60Z" stroke="#000" stroke-width="0" fill="#222" />
<path d="M611.80 427.80L666.00 427.80" stroke="#222" stroke-width="1.7" />
<path d="M620.00 427.80L664.00 427.80" stroke="#ddd" stroke-width="1.0" stroke-dasharray="1.3 1 1.3 10.6"/>
<path d="M668.40 427.80L672.60 427.80" stroke="#000" stroke-width="0.9" />
<path d="M675.40 426.10L740.00 426.10L740.00 429.60L677.20 429.60Z" stroke="#000" stroke-width="0" fill="#222" />
<path d="M679.00 427.80L738.00 427.80" stroke="#ddd" stroke-width="1.0" stroke-dasharray="1.3 1 1.3 10.6"/>
<rect x="740.00" y="422.80" width="7.40" height="10.40" rx="0" stroke="#000" stroke-width="1.1" fill="#fff"/>
<path d="M743.50 426.60L743.50 429.40" stroke="#000" stroke-width="1.0" />
<rect x="747.40" y="420.20" width="12.00" height="15.20" rx="1.5" stroke="#000" stroke-width="0" fill="#222"/>
<rect x="749.60" y="424.20" width="9.80" height="7.20" rx="0" stroke="#000" stroke-width="0" fill="#fff"/>
<path d="M751.50 421.00L751.50 423.50" stroke="#ddd" stroke-width="0.95" />
<path d="M751.50 432.20L751.50 434.60" stroke="#ddd" stroke-width="0.95" />
<path d="M754.50 421.00L754.50 423.50" stroke="#ddd" stroke-width="0.95" />
<path d="M754.50 432.20L754.50 434.60" stroke="#ddd" stroke-width="0.95" />
<path d="M756.50 421.00L756.50 423.50" stroke="#ddd" stroke-width="0.95" />
<path d="M756.50 432.20L756.50 434.60" stroke="#ddd" stroke-width="0.95" />
<path d="M749.60 427.80L761.00 427.80" stroke="#555" stroke-width="0.8" />
<path d="M498.50 450.40L573.30 450.40L588.70 428.00" stroke="#000" stroke-width="0.95" fill="none" />
<path d="M626.00 454.40L723.70 454.40L744.00 431.80" stroke="#000" stroke-width="0.95" fill="none" />
<circle cx="150.30" cy="455.00" r="29.20" stroke="#000" stroke-width="1.7" fill="none"/>
<circle cx="150.30" cy="455.00" r="27.20" stroke="#444" stroke-width="0.7" fill="none"/>
<path d="M150.50 421.00L150.50 489.00" stroke="#000" stroke-width="0.95" stroke-dasharray="11 1.5 1.5 1.5"/>
<path d="M116.00 455.50L185.00 455.50" stroke="#000" stroke-width="0.95" stroke-dasharray="11 1.5 1.5 1.5"/>
<path d="M136.2 450.2 Q150.3 444 164.6 450.8 L158.8 462.6 Q150.3 459.6 142.6 463.4 Z" stroke="#000" stroke-width="1.3" fill="none" />
<path d="M138.4 451.4 Q150.3 446.2 162.4 452 " stroke="#000" stroke-width="0.7" fill="none" />
<path d="M139.40 451.20L145.00 461.60" stroke="#000" stroke-width="1.2" fill="none" />
<path d="M150.60 458.00L151.40 464.60" stroke="#000" stroke-width="1.0" fill="none" />
<circle cx="151.40" cy="465.40" r="1.30" stroke="#000" stroke-width="1.0" fill="#222"/>
<path d="M207.50 435.30L178.00 435.30L160.80 448.50" stroke="#000" stroke-width="0.95" fill="none" />
<path d="M200.00 488.00L178.00 488.00L151.50 457.50" stroke="#000" stroke-width="0.95" fill="none" />
<rect x="331.20" y="402.00" width="136.40" height="29.80" rx="0" stroke="#000" stroke-width="1.3" fill="none"/>
<path d="M346.30 402.00L346.30 431.80" stroke="#000" stroke-width="1.3" />
<path d="M374.00 402.00L374.00 431.80" stroke="#000" stroke-width="1.3" />
<path d="M331.20 417.00L346.30 417.00" stroke="#000" stroke-width="1.3" />
<rect x="361.60" y="459.00" width="93.90" height="31.00" rx="0" stroke="#000" stroke-width="1.3" fill="none"/>
<path d="M377.50 459.00L377.50 490.00" stroke="#000" stroke-width="1.3" />
<path d="M407.80 459.00L407.80 490.00" stroke="#000" stroke-width="1.3" />
<path d="M361.60 474.30L455.50 474.30" stroke="#000" stroke-width="1.3" />
<path d="M293.60 409.00L293.60 394.60L315.00 394.60L315.00 409.00" stroke="#000" stroke-width="1.2" fill="none" />
<rect x="298.60" y="399.00" width="11.00" height="3.20" rx="0.8" stroke="#000" stroke-width="1.0" fill="none"/>
<path d="M293.60 404.50L315.00 404.50" stroke="#000" stroke-width="0.95" />
<path d="M293.60 406.50L315.00 406.50" stroke="#000" stroke-width="0.95" />
<path d="M300.50 404.00L300.50 408.00" stroke="#000" stroke-width="0.95" />
<path d="M307.50 404.00L307.50 408.00" stroke="#000" stroke-width="0.95" />
<rect x="287.60" y="408.00" width="33.40" height="20.60" rx="10.300000000000011" stroke="#000" stroke-width="1.5" fill="#fff"/>
<rect x="290.60" y="410.60" width="27.40" height="15.40" rx="7.699999999999989" stroke="#000" stroke-width="1.0" fill="none"/>
<rect x="292.80" y="412.40" width="23.00" height="11.80" rx="5.900000000000006" stroke="#000" stroke-width="1.0" fill="none"/>
<path d="M303.50 412.40L303.50 424.20" stroke="#000" stroke-width="0.95" />
<path d="M305.50 412.40L305.50 424.20" stroke="#000" stroke-width="0.95" />
<rect x="297.60" y="418.40" width="3.20" height="2.40" rx="0" stroke="#000" stroke-width="0" fill="#222"/>
<rect x="308.00" y="418.40" width="3.20" height="2.40" rx="0" stroke="#000" stroke-width="0" fill="#222"/>
<path d="M297.00 425.00L312.00 425.00" stroke="#333" stroke-width="1.2" />
<path d="M291.50 417.00L291.50 420.50" stroke="#000" stroke-width="0.95" />
<path d="M317.50 417.00L317.50 420.50" stroke="#000" stroke-width="0.95" />
<path d="M247.20 423.50L250.00 421.50L249.00 416.00L248.20 411.00L250.00 409.60L263.50 406.20L267.00 408.20L273.00 409.00L279.00 412.00L281.60 416.50L281.40 421.50L279.00 424.80L275.00 426.40L272.00 429.40L266.00 431.40L258.00 433.60L256.00 433.20L247.40 428.40Z" stroke="#111" stroke-width="0.8" fill="#111" />
<path d="M251.20 410.90L263.20 407.60L265.20 408.80L253.60 412.90Z" stroke="#000" stroke-width="0" fill="#fff" />
<path d="M253.80 414.80L265.40 410.30L266.20 411.50L255.00 416.40Z" stroke="#000" stroke-width="0" fill="#fff" />
<path d="M255.80 418.20L266.80 412.90L268.60 414.00L258.40 419.80Z" stroke="#000" stroke-width="0" fill="#fff" />
<path d="M250.80 417.20L253.40 416.20L256.20 420.80L252.20 422.60Z" stroke="#000" stroke-width="0" fill="#fff" />
<path d="M248.20 424.20L256.80 428.60L256.80 432.40L248.20 427.80Z" stroke="#000" stroke-width="0" fill="#fff" />
<path d="M258.00 428.60L266.40 424.60L266.60 429.40L258.00 432.60Z" stroke="#000" stroke-width="0" fill="#fff" />
<path d="M258.00 430.40L266.40 426.60" stroke="#444" stroke-width="0.7" fill="none" />
<path d="M249.40 423.20L258.00 419.60L265.60 423.00L257.40 427.00Z" stroke="#000" stroke-width="0" fill="#fff" />
<path d="M252.60 423.60L258.20 421.20L261.60 422.80L256.40 425.20" stroke="#111" stroke-width="0.8" fill="none" />
<ellipse cx="250.60" cy="426.40" rx="1.90" ry="1.20" stroke="#111" stroke-width="0.9" fill="none" transform="rotate(28 250.60 426.40)"/>
<ellipse cx="254.60" cy="428.60" rx="1.90" ry="1.20" stroke="#111" stroke-width="0.9" fill="none" transform="rotate(28 254.60 428.60)"/>
<path d="M267.2 413.2 Q264.8 421.0 267.8 429.4" stroke="#fff" stroke-width="1.25" fill="none" />
<path d="M270.7 414.2 Q268.3 421.4 271.3 427.3" stroke="#fff" stroke-width="1.25" fill="none" />
<path d="M274.2 415.3 Q271.8 421.7 274.8 425.2" stroke="#fff" stroke-width="1.25" fill="none" />
<ellipse cx="278.20" cy="419.00" rx="1.50" ry="3.20" stroke="#000" stroke-width="0" fill="#fff" transform="rotate(-12 278.20 419.00)"/>
<rect x="331.20" y="471.00" width="3.40" height="5.60" rx="0" stroke="#000" stroke-width="1.1" fill="none"/>
<rect x="334.40" y="458.60" width="22.20" height="32.00" rx="11.100000000000023" stroke="#000" stroke-width="1.6" fill="#fff"/>
<rect x="337.00" y="461.00" width="17.00" height="27.20" rx="8.5" stroke="#000" stroke-width="1.0" fill="none"/>
<rect x="339.00" y="463.00" width="13.00" height="23.20" rx="6.5" stroke="#000" stroke-width="1.0" fill="none"/>
<path d="M340.00 474.00L348.00 474.00" stroke="#000" stroke-width="1.5" />
<rect x="340.00" y="466.70" width="2.80" height="3.40" rx="0.6" stroke="#000" stroke-width="0" fill="#222"/>
<rect x="346.20" y="466.70" width="2.80" height="3.40" rx="0.6" stroke="#000" stroke-width="0" fill="#222"/>
<rect x="340.00" y="478.10" width="2.80" height="3.40" rx="0.6" stroke="#000" stroke-width="0" fill="#222"/>
<rect x="346.20" y="478.10" width="2.80" height="3.40" rx="0.6" stroke="#000" stroke-width="0" fill="#222"/>
<path d="M344.50 463.50L344.50 471.50" stroke="#666" stroke-width="0.95" />
<path d="M344.50 476.50L344.50 485.50" stroke="#666" stroke-width="0.95" />
<path d="M316.5 461.5 Q322 459.2 327 462.5 Q330.5 466 329 471 L326.5 472.5" stroke="#151515" stroke-width="3.0" fill="none" />
<path d="M318 462.5 Q323 466 322.5 472.5" stroke="#151515" stroke-width="1.4" fill="none" />
<path d="M297.50 472.50L316.50 461.80" stroke="#151515" stroke-width="1.6" fill="none" />
<path d="M303.00 489.00L313.00 483.50L313.00 480.50L326.50 472.80" stroke="#151515" stroke-width="1.6" fill="none" />
<path d="M300.50 475.50L318.50 465.50" stroke="#151515" stroke-width="1.1" fill="none" />
<path d="M306.00 478.50L321.00 469.50" stroke="#151515" stroke-width="1.1" fill="none" />
<path d="M311.00 477.50L311.80 481.00L319.50 476.50L319.50 473.50" stroke="#151515" stroke-width="1.2" fill="none" />
<path d="M315.50 463.20L316.50 468.00" stroke="#151515" stroke-width="1.6" fill="none" />
<path d="M320.00 466.00L321.00 469.50" stroke="#151515" stroke-width="1.6" fill="none" />
<path d="M297.5 472.5 Q303.5 475 305.5 481.5 Q306 486 303 489" stroke="#151515" stroke-width="1.5" fill="none" />
<path d="M282 481 Q281.5 476.5 286.5 474.5 L297.5 472.5" stroke="#151515" stroke-width="1.9" fill="none" />
<path d="M292.5 493.5 L303 489" stroke="#151515" stroke-width="1.9" fill="none" />
<path d="M282 481 Q282.5 488 288 492.5 Q291 494.5 293.5 493 Q298.5 489 296.5 483.5 Q294 477.5 288 476 Q283.5 475.8 282 481Z" stroke="#151515" stroke-width="2.5" fill="#fff" />
<path d="M284.5 482 Q286 488.5 290.5 491" stroke="#151515" stroke-width="1.0" fill="none" />
<path d="M288.50 487.00L296.00 482.80" stroke="#151515" stroke-width="1.3" fill="none" />
<path d="M290.50 474.00L293.00 477.50L296.00 476.00L294.50 473.00" stroke="#151515" stroke-width="1.1" fill="none" />
<path d="M287.50 474.50L289.00 477.00" stroke="#151515" stroke-width="1.1" fill="none" />
<path d="M565.6 499.5 Q565.6 496.8 568 496.8 L576.4 496.8 Q578.8 496.8 578.8 499.5 L579.6 505.5 Q587.6 508 587.6 516.5 Q587.6 526.8 577 526.8 L567 526.8 Q556.4 526.8 556.4 516.5 Q556.4 508 564.6 505.5Z" stroke="#111" stroke-width="1.6" fill="#fff" />
<path d="M567.6 499.8 L576.8 499.8 L577.4 506.5 Q584.8 508.6 584.8 516.5 Q584.8 524.4 577 524.4 L567 524.4 Q559.2 524.4 559.2 516.5 Q559.2 508.6 567 506.5Z" stroke="#111" stroke-width="0.9" fill="none" />
<rect x="569.40" y="500.80" width="5.40" height="2.20" rx="0" stroke="#111" stroke-width="0.8" fill="none"/>
<rect x="570.20" y="504.40" width="3.80" height="3.00" rx="0" stroke="#111" stroke-width="0.8" fill="#999"/>
<rect x="560.80" y="509.40" width="22.00" height="13.40" rx="6.699999999999989" stroke="#111" stroke-width="1.5" fill="#fff"/>
<rect x="563.40" y="511.40" width="16.80" height="9.40" rx="4.699999999999989" stroke="#111" stroke-width="0.9" fill="none"/>
<rect x="564.60" y="513.60" width="4.60" height="6.00" rx="1.2" stroke="#000" stroke-width="0" fill="#222"/>
<rect x="574.40" y="513.60" width="4.60" height="6.00" rx="1.2" stroke="#000" stroke-width="0" fill="#222"/>
<rect x="566.20" y="515.60" width="1.20" height="1.60" rx="0" stroke="#000" stroke-width="0" fill="#bbb"/>
<rect x="576.00" y="515.60" width="1.20" height="1.60" rx="0" stroke="#000" stroke-width="0" fill="#bbb"/>
<path d="M570.4 522.8 L570.4 515.5 Q571.8 513.6 573.2 515.5 L573.2 522.8" stroke="#111" stroke-width="0.9" fill="none" />
<path d="M567.00 519.60L562.70 539.40L528.00 539.40" stroke="#000" stroke-width="0.95" fill="none" />
<path d="M576.60 519.60L578.70 539.40L616.00 539.40" stroke="#000" stroke-width="0.95" fill="none" />
<path d="M497 504 L491.5 500.6 Q487 500 486 504.5 Q485.6 511 490.5 514 L497.5 518" stroke="#151515" stroke-width="2.12" fill="none" />
<path d="M494 502.2 Q490.5 505.5 493 511.5" stroke="#151515" stroke-width="1.25" fill="none" />
<path d="M497.00 497.60L508.00 494.40L524.50 504.20L524.50 510.50L519.50 513.20L503.00 503.40L497.00 505.50Z" stroke="#151515" stroke-width="2.25" fill="#fff" />
<path d="M503.00 503.40L503.40 497.20" stroke="#151515" stroke-width="1.38" fill="none" />
<path d="M519.50 513.20L519.20 507.20L524.50 504.20" stroke="#151515" stroke-width="1.5" fill="none" />
<path d="M503.40 497.20L519.20 507.20" stroke="#151515" stroke-width="1.38" fill="none" />
<path d="M498.00 497.50L500.00 495.30L505.00 494.50" stroke="#151515" stroke-width="1.88" fill="none" />
<path d="M515.00 509.50L515.00 513.50L512.00 512.00L512.00 508.00" stroke="#151515" stroke-width="1.5" fill="none" />
<path d="M497 505.5 L497 514 Q497.5 521 504 526.5 L513 532.2 Q517.5 533.5 522 530 L527.5 524 Q530 519 528.5 513.5 L524.5 510.5" stroke="#151515" stroke-width="2.5" fill="none" />
<path d="M497.5 512 Q502 509.5 505.5 512 L506 524.5" stroke="#151515" stroke-width="1.88" fill="none" />
<path d="M501 515.5 L501.5 523.5" stroke="#151515" stroke-width="1.75" fill="none" />
<path d="M506 513 L511.5 516.5 L512 530.5" stroke="#151515" stroke-width="1.62" fill="none" />
<path d="M512.5 520 Q513.5 516.5 517.5 515.5 L524 512.8 Q528 513 528 517 Q528 522.5 523.5 527.5 Q519 532 515 531 Q511.8 528 512.5 520Z" stroke="#151515" stroke-width="2.25" fill="#fff" />
<path d="M515.5 522 Q516 519.5 518.5 518.5 L523 516.8 Q525.2 517 525 519.5 Q524.5 523 521.5 526 Q518.5 528.8 516.5 527.8 Q515 526 515.5 522Z" stroke="#151515" stroke-width="1.62" fill="none" />
<ellipse cx="518.20" cy="523.60" rx="1.30" ry="1.90" stroke="#000" stroke-width="0.0" fill="#222" transform="rotate(20 518.20 523.60)"/>
<ellipse cx="522.30" cy="520.60" rx="1.30" ry="1.90" stroke="#000" stroke-width="0.0" fill="#222" transform="rotate(20 522.30 520.60)"/>
<path d="M113.50 0.00L113.50 21.50" stroke="#000" stroke-width="1.0" />
<path d="M0.00 21.50L114.00 21.50" stroke="#000" stroke-width="1.0" />
<g transform="translate(75.00 4.40) rotate(180)" fill="#1a1a1a" aria-label="XDQ131L"><text transform="translate(0.00 0) scale(0.5068 1)" font-size="16.97" x="-0.1 11.9 24.0 37.1 47.6 58.2 68.1" xml:space="preserve" stroke="none">XDQ131L</text></g>
<g transform="translate(272.00 74.70)" fill="#1a1a1a" aria-label="ø74"><text transform="translate(0.00 0) scale(0.6105 1)" font-size="10.76" x="0.6 7.3 14.0" xml:space="preserve" stroke="none">ø74</text></g>
<g transform="translate(255.00 118.80)" fill="#1a1a1a" aria-label="50"><text transform="translate(0.00 0) scale(0.6253 1)" font-size="11.36" x="0.7 7.7" xml:space="preserve" stroke="none">50</text></g>
<g transform="translate(379.00 94.20) rotate(-90)" fill="#1a1a1a" aria-label="17"><text transform="translate(0.00 0) scale(0.4397 1)" font-size="12.12" x="0.7 8.2" xml:space="preserve" stroke="none">17</text></g>
<g transform="translate(376.30 203.80) rotate(-90)" fill="#1a1a1a" aria-label="245"><text transform="translate(0.00 0) scale(0.6538 1)" font-size="11.36" x="0.7 7.7 14.7" xml:space="preserve" stroke="none">245</text></g>
<g transform="translate(372.20 190.00) rotate(-90)" fill="#1a1a1a" aria-label="+2.5"><text transform="translate(0.00 0) scale(0.4614 1)" font-size="8.48" x="0.3 6.0 11.9 15.6" xml:space="preserve" stroke="none">+2.5</text></g>
<g transform="translate(378.60 189.00) rotate(-90)" fill="#1a1a1a" aria-label="0"><text transform="translate(0.00 0) scale(0.7106 1)" font-size="6.36" x="0.4" xml:space="preserve" stroke="none">0</text></g>
<g transform="translate(41.00 210.00)" fill="#1a1a1a" aria-label="AMP 282080-1"><text transform="translate(0.00 0) scale(0.4995 1)" font-size="15.15" x="-0.1 9.9 23.2 34.3 41.0 50.4 59.8 69.1 78.5 87.9 98.0 105.6" xml:space="preserve" stroke="none">AMP 282080-1</text></g>
<g transform="translate(16.00 254.08)" fill="#1a1a1a" aria-label="线束长度350±20mm"><text transform="scale(1 1.405)" font-size="6.34" x="0.06 6.53 12.99 19.46" stroke="none">线束长度</text><text transform="translate(25.86 0) scale(0.4851 1)" font-size="10.25" x="0.6 7.0 13.3" xml:space="preserve" stroke="none">350</text><text transform="scale(1 1.405)" font-size="6.34" x="35.16" stroke="none">±</text><text transform="translate(41.56 0) scale(0.4851 1)" font-size="10.25" x="0.6 7.0 12.5 20.0" xml:space="preserve" stroke="none">20mm</text></g>
<g transform="translate(16.00 265.11)" fill="#1a1a1a" aria-label="白色自缠管 330mm"><text transform="scale(1 1.213)" font-size="6.9" x="0.07 7.11 14.15 21.19 28.23" stroke="none">白色自缠管</text><text transform="translate(35.20 0) scale(0.5627 1)" font-size="9.62" x="1.3 5.6 11.5 17.5 22.6 29.7" xml:space="preserve" stroke="none"> 330mm</text></g>
<g transform="translate(153.70 221.08)" fill="#1a1a1a" aria-label="水壶开通孔D19"><text transform="scale(1 1.406)" font-size="6.26" x="0.06 6.45 12.84 19.22 25.61" stroke="none">水壶开通孔</text><text transform="translate(31.93 0) scale(0.4852 1)" font-size="10.12" x="-0.1 7.8 14.1" xml:space="preserve" stroke="none">D19</text></g>
<g transform="translate(158.30 233.01)" fill="#1a1a1a" aria-label="耐防水胶"><text transform="scale(1 1.242)" font-size="6.74" x="0.07 6.94 13.82 20.69" stroke="none">耐防水胶</text></g>
<g transform="translate(228.60 298.40)" fill="#1a1a1a" aria-label="305"><text transform="translate(0.00 0) scale(0.5507 1)" font-size="12.12" x="0.7 8.2 15.7" xml:space="preserve" stroke="none">305</text></g>
<g transform="translate(241.40 293.40)" fill="#1a1a1a" aria-label="+2.5"><text transform="translate(0.00 0) scale(0.4398 1)" font-size="9.09" x="0.4 6.4 12.7 16.7" xml:space="preserve" stroke="none">+2.5</text></g>
<g transform="translate(241.20 300.40)" fill="#1a1a1a" aria-label="0"><text transform="translate(0.00 0) scale(0.6299 1)" font-size="6.67" x="0.4" xml:space="preserve" stroke="none">0</text></g>
<g transform="translate(150.30 326.18)" fill="#000" aria-label="直二通"><text transform="scale(1 1.440)" font-size="6.11" font-weight="bold" x="0.06 6.30 12.53" stroke="none">直二通</text></g>
<g transform="translate(145.90 337.25)" fill="#000" aria-label="管路自带"><text transform="scale(1 1.413)" font-size="6.54" font-weight="bold" x="0.07 6.74 13.42 20.09" stroke="none">管路自带</text></g>
<g transform="translate(199.20 326.65)" fill="#1a1a1a" aria-label="EPDM管路长度350±20mm"><text transform="translate(0.00 0) scale(0.4912 1)" font-size="10.62" x="0.3 7.5 13.8 20.8" xml:space="preserve" stroke="none">EPDM</text><text transform="scale(1 1.389)" font-size="6.65" x="14.65 21.43 28.22 35.00" stroke="none">管路长度</text><text transform="translate(41.72 0) scale(0.4912 1)" font-size="10.62" x="0.6 7.2 13.8" xml:space="preserve" stroke="none">350</text><text transform="scale(1 1.389)" font-size="6.65" x="51.48" stroke="none">±</text><text transform="translate(58.19 0) scale(0.4912 1)" font-size="10.62" x="0.6 7.2 12.9 20.7" xml:space="preserve" stroke="none">20mm</text></g>
<g transform="translate(220.60 337.25)" fill="#1a1a1a" aria-label="水壶自带"><text transform="scale(1 1.467)" font-size="6.3" x="0.06 6.49 12.91 19.34" stroke="none">水壶自带</text></g>
<g transform="translate(64.00 337.63)" fill="#1a1a1a" aria-label="线束长度350±20mm"><text transform="scale(1 1.294)" font-size="7.98" x="0.08 8.23 16.37 24.52" stroke="none">线束长度</text><text transform="translate(32.58 0) scale(0.5276 1)" font-size="11.87" x="0.7 8.1 15.4" xml:space="preserve" stroke="none">350</text><text transform="scale(1 1.294)" font-size="7.98" x="44.30" stroke="none">±</text><text transform="translate(52.36 0) scale(0.5276 1)" font-size="11.87" x="0.7 8.1 14.4 23.1" xml:space="preserve" stroke="none">20mm</text></g>
<g transform="translate(405.00 271.60) rotate(-90)" fill="#1a1a1a" aria-label="50"><text transform="translate(0.00 0) scale(0.5330 1)" font-size="12.12" x="0.7 8.2" xml:space="preserve" stroke="none">50</text></g>
<g transform="translate(479.50 297.70)" fill="#1a1a1a" aria-label="20"><text transform="translate(0.00 0) scale(0.5262 1)" font-size="11.97" x="0.7 8.1" xml:space="preserve" stroke="none">20</text></g>
<g transform="translate(470.50 313.00)" fill="#1a1a1a" aria-label="150"><text transform="translate(0.00 0) scale(0.5403 1)" font-size="11.06" x="0.7 7.5 14.4" xml:space="preserve" stroke="none">150</text></g>
<g transform="translate(694.00 320.79)" fill="#1a1a1a" aria-label="水位传感器参数"><text transform="scale(1 1.397)" font-size="7.94" x="0.08 8.18 16.28 24.38 32.48 40.58 48.68" stroke="none">水位传感器参数</text></g>
<g transform="translate(694.00 333.33)" fill="#1a1a1a" aria-label="1、型号：1A1"><text transform="translate(0.00 0) scale(0.4691 1)" font-size="9.38" x="0.6" xml:space="preserve" stroke="none">1</text><text transform="scale(1 1.455)" font-size="5.6" x="2.61 7.07 12.79 18.33" stroke="none">、型号：</text><text transform="translate(22.73 0) scale(0.4691 1)" font-size="9.38" x="0.6 5.7 13.0" xml:space="preserve" stroke="none">1A1</text></g>
<g transform="translate(694.00 344.04)" fill="#1a1a1a" aria-label="2、在24V 200mA阻性负载工况下，耐久性次数≥50万次；"><text transform="translate(0.00 0) scale(0.4639 1)" font-size="9.13" x="0.5" xml:space="preserve" stroke="none">2</text><text transform="scale(1 1.471)" font-size="5.39" x="2.51 6.80" stroke="none">、在</text><text transform="translate(12.25 0) scale(0.4639 1)" font-size="9.13" x="0.5 6.2 11.2 19.0 23.0 28.7 34.3 39.2 46.1" xml:space="preserve" stroke="none">24V 200mA</text><text transform="scale(1 1.471)" font-size="5.39" x="36.71 42.21 47.72 53.22 58.72 64.23 69.73 75.07 79.36 84.86 90.37 95.87 101.37 106.88" stroke="none">阻性负载工况下，耐久性次数≥</text><text transform="translate(112.32 0) scale(0.4639 1)" font-size="9.13" x="0.5 6.2" xml:space="preserve" stroke="none">50</text><text transform="scale(1 1.471)" font-size="5.39" x="117.62 123.12 128.46" stroke="none">万次；</text></g>
<g transform="translate(694.00 356.33)" fill="#1a1a1a" aria-label="3、工作温度：-30℃-85℃，存储温度：-40℃-85℃；"><text transform="translate(0.00 0) scale(0.4944 1)" font-size="9.25" x="0.6" xml:space="preserve" stroke="none">3</text><text transform="scale(1 1.379)" font-size="5.83" x="2.71 7.35 13.29 19.24 25.18 30.95" stroke="none">、工作温度：</text><text transform="translate(35.53 0) scale(0.4944 1)" font-size="9.25" x="1.0 5.7 11.4" xml:space="preserve" stroke="none">-30</text><text transform="scale(1 1.379)" font-size="5.83" x="43.77" stroke="none">℃</text><text transform="translate(49.66 0) scale(0.4944 1)" font-size="9.25" x="1.0 5.7 11.4" xml:space="preserve" stroke="none">-85</text><text transform="scale(1 1.379)" font-size="5.83" x="57.90 63.67 68.30 74.25 80.19 86.14 91.91" stroke="none">℃，存储温度：</text><text transform="translate(96.48 0) scale(0.4944 1)" font-size="9.25" x="1.0 5.7 11.4" xml:space="preserve" stroke="none">-40</text><text transform="scale(1 1.379)" font-size="5.83" x="104.73" stroke="none">℃</text><text transform="translate(110.61 0) scale(0.4944 1)" font-size="9.25" x="1.0 5.7 11.4" xml:space="preserve" stroke="none">-85</text><text transform="scale(1 1.379)" font-size="5.83" x="118.86 124.62" stroke="none">℃；</text></g>
<g transform="translate(694.00 367.00)" fill="#1a1a1a" aria-label="4、开关作用：如图安装，当水位低于1.4L时，传感器断开，"><text transform="translate(0.00 0) scale(0.4425 1)" font-size="9.75" x="0.6" xml:space="preserve" stroke="none">4</text><text transform="scale(1 1.542)" font-size="5.5" x="2.56 6.93 12.54 18.15 23.76 29.20 33.57 39.18 44.79 50.40 55.84 60.21 65.82 71.43 77.04 82.65" stroke="none">、开关作用：如图安装，当水位低于</text><text transform="translate(88.20 0) scale(0.4425 1)" font-size="9.75" x="0.6 7.3 11.7 17.4" xml:space="preserve" stroke="none">1.4L</text><text transform="scale(1 1.542)" font-size="5.5" x="98.69 104.13 108.51 114.12 119.73 125.33 130.94 136.38" stroke="none">时，传感器断开，</text></g>
<g transform="translate(694.00 378.70)" fill="#1a1a1a" aria-label="当水位高于1.5L时，传感器闭合（导通）。"><text transform="scale(1 1.533)" font-size="5.53" x="0.06 5.70 11.34 16.98 22.62" stroke="none">当水位高于</text><text transform="translate(28.20 0) scale(0.4450 1)" font-size="9.75" x="0.6 7.3 11.7 17.4" xml:space="preserve" stroke="none">1.5L</text><text transform="scale(1 1.533)" font-size="5.53" x="38.76 44.23 48.63 54.27 59.92 65.56 71.20 74.41 79.94 85.58 91.05 94.16" stroke="none">时，传感器闭合（导通）。</text></g>
<g transform="translate(240.20 379.50)" fill="#1a1a1a" aria-label="防水插件AMP 282080-1"><text transform="scale(1 1.270)" font-size="9.84" x="0.10 10.14 20.17 30.21" stroke="none">防水插件</text><text transform="translate(40.15 0) scale(0.5371 1)" font-size="14.37" x="-0.1 9.4 22.0 32.5 38.9 47.8 56.7 65.6 74.5 83.4 93.0 100.2" xml:space="preserve" stroke="none">AMP 282080-1</text></g>
<g transform="translate(297.20 439.00)" fill="#1a1a1a" aria-label="1"><text transform="translate(0.00 0) scale(0.3464 1)" font-size="12.12" x="0.7" xml:space="preserve" stroke="none">1</text></g>
<g transform="translate(307.80 439.00)" fill="#1a1a1a" aria-label="2"><text transform="translate(0.00 0) scale(0.4797 1)" font-size="12.12" x="0.7" xml:space="preserve" stroke="none">2</text></g>
<g transform="translate(336.40 415.00)" fill="#1a1a1a" aria-label="1"><text transform="translate(0.00 0) scale(0.3876 1)" font-size="16.67" x="1.0" xml:space="preserve" stroke="none">1</text></g>
<g transform="translate(335.80 430.40)" fill="#1a1a1a" aria-label="2"><text transform="translate(0.00 0) scale(0.5426 1)" font-size="16.67" x="1.0" xml:space="preserve" stroke="none">2</text></g>
<g transform="translate(352.40 423.06)" fill="#1a1a1a" aria-label="黑线"><text transform="scale(1 1.956)" font-size="7.45" x="0.08 7.68" stroke="none">黑线</text></g>
<g transform="translate(375.20 412.86)" fill="#1a1a1a" aria-label="产品不分正负极，推荐接线方式"><text transform="scale(1 1.775)" font-size="6.49" x="0.07 6.68 13.30 19.92 26.54 33.16 39.78 46.19 51.36 57.98 64.59 71.21 77.83 84.45" stroke="none">产品不分正负极，推荐接线方式</text></g>
<g transform="translate(403.30 429.33)" fill="#1a1a1a" aria-label="（一负二正）"><text transform="scale(1 1.661)" font-size="6.28" x="-2.69 3.59 10.00 16.41 22.83 29.05" stroke="none">（一负二正）</text></g>
<g transform="translate(363.60 453.79)" fill="#1a1a1a" aria-label="防水插件AMP 282104-1"><text transform="scale(1 1.280)" font-size="9.85" x="0.10 10.15 20.19 30.24" stroke="none">防水插件</text><text transform="translate(40.19 0) scale(0.5330 1)" font-size="14.50" x="-0.1 9.5 22.2 32.8 39.2 48.2 57.2 66.2 75.2 84.1 93.8 101.1" xml:space="preserve" stroke="none">AMP 282104-1</text></g>
<g transform="translate(367.80 472.00)" fill="#1a1a1a" aria-label="1"><text transform="translate(0.00 0) scale(0.3837 1)" font-size="15.15" x="0.9" xml:space="preserve" stroke="none">1</text></g>
<g transform="translate(367.00 487.30)" fill="#1a1a1a" aria-label="2"><text transform="translate(0.00 0) scale(0.5588 1)" font-size="15.61" x="0.9" xml:space="preserve" stroke="none">2</text></g>
<g transform="translate(385.30 471.86)" fill="#1a1a1a" aria-label="黑线"><text transform="scale(1 1.536)" font-size="7.5" x="0.08 7.73" stroke="none">黑线</text></g>
<g transform="translate(385.30 486.86)" fill="#1a1a1a" aria-label="红线"><text transform="scale(1 1.536)" font-size="7.5" x="0.08 7.73" stroke="none">红线</text></g>
<g transform="translate(416.50 471.83)" fill="#1a1a1a" aria-label="地（-）"><text transform="scale(1 1.014)" font-size="11.8" x="0.12 6.99" stroke="none">地（</text><text transform="translate(18.67 0) scale(0.6738 1)" font-size="13.75" x="1.5" xml:space="preserve" stroke="none">-</text><text transform="scale(1 1.014)" font-size="11.8" x="23.53" stroke="none">）</text></g>
<g transform="translate(416.50 486.86)" fill="#1a1a1a" aria-label="火（+）"><text transform="scale(1 1.004)" font-size="11.47" x="0.12 6.79" stroke="none">火（</text><text transform="translate(18.15 0) scale(0.6798 1)" font-size="13.25" x="0.5" xml:space="preserve" stroke="none">+</text><text transform="scale(1 1.004)" font-size="11.47" x="23.73" stroke="none">）</text></g>
<g transform="translate(146.00 416.82)" fill="#1a1a1a" aria-label="A向"><text transform="translate(0.00 0) scale(0.5485 1)" font-size="11.25" x="-0.1" xml:space="preserve" stroke="none">A</text><text transform="scale(1 1.244)" font-size="7.86" x="4.46" stroke="none">向</text></g>
<g transform="translate(181.00 434.10)" fill="#1a1a1a" aria-label="刮水标识"><text transform="scale(1 1.349)" font-size="6.37" x="0.07 6.57 13.06 19.57" stroke="none">刮水标识</text></g>
<g transform="translate(181.50 487.17)" fill="#1a1a1a" aria-label="透气孔"><text transform="scale(1 1.577)" font-size="5.72" x="0.06 5.89 11.72" stroke="none">透气孔</text></g>
<g transform="translate(139.00 503.52)" fill="#1a1a1a" aria-label="加水口盖"><text transform="scale(1 1.391)" font-size="7.03" x="0.07 7.25 14.42 21.60" stroke="none">加水口盖</text></g>
<g transform="translate(121.60 576.16)" fill="#1a1a1a" aria-label="技术参数"><text transform="scale(1 1.109)" font-size="11.76" x="0.12 12.12 24.12 36.12" stroke="none">技术参数</text></g>
<g transform="translate(91.00 589.65)" fill="#1a1a1a" aria-label="1.27V负载电流≤1.5A；"><text transform="translate(0.00 0) scale(0.4877 1)" font-size="10.62" x="0.6 8.0 12.7 19.3 25.2" xml:space="preserve" stroke="none">1.27V</text><text transform="scale(1 1.400)" font-size="6.6" x="16.05 22.79 29.53 36.26 43.00" stroke="none">负载电流≤</text><text transform="translate(49.67 0) scale(0.4877 1)" font-size="10.62" x="0.6 8.0 12.7 18.6" xml:space="preserve" stroke="none">1.5A</text><text transform="scale(1 1.400)" font-size="6.6" x="62.31" stroke="none">；</text></g>
<g transform="translate(91.00 602.05)" fill="#1a1a1a" aria-label="2.流量420ml/10s；"><text transform="translate(0.00 0) scale(0.5228 1)" font-size="10.62" x="0.6 8.0" xml:space="preserve" stroke="none">2.</text><text transform="scale(1 1.305)" font-size="7.08" x="6.39 13.61" stroke="none">流量</text><text transform="translate(20.76 0) scale(0.5228 1)" font-size="10.62" x="0.6 7.2 13.8 19.5 28.8 34.5 39.4 46.0 52.9" xml:space="preserve" stroke="none">420ml/10s</text><text transform="scale(1 1.305)" font-size="7.08" x="50.94" stroke="none">；</text></g>
<g transform="translate(91.00 614.65)" fill="#1a1a1a" aria-label="3.封闭压力≥1.5Kgf/cm"><text transform="translate(0.00 0) scale(0.5218 1)" font-size="10.62" x="0.6 8.0" xml:space="preserve" stroke="none">3.</text><text transform="scale(1 1.309)" font-size="7.06" x="6.37 13.58 20.79 28.00 35.21" stroke="none">封闭压力≥</text><text transform="translate(42.34 0) scale(0.5218 1)" font-size="10.62" x="0.6 8.0 12.7 18.6 26.8 33.9 40.0 45.1 50.3" xml:space="preserve" stroke="none">1.5Kgf/cm</text></g>
<g transform="translate(164.20 609.60)" fill="#1a1a1a" aria-label="2"><text transform="translate(0.00 0) scale(0.5330 1)" font-size="6.67" x="0.4" xml:space="preserve" stroke="none">2</text></g>
<g transform="translate(166.40 614.65)" fill="#1a1a1a" aria-label="；"><text transform="scale(1 1.072)" font-size="8.62" x="-0.18" stroke="none">；</text></g>
<g transform="translate(91.00 627.45)" fill="#1a1a1a" aria-label="4.去发情标；"><text transform="translate(0.00 0) scale(0.4956 1)" font-size="10.62" x="0.6 8.0" xml:space="preserve" stroke="none">4.</text><text transform="scale(1 1.377)" font-size="6.71" x="6.05 12.90 19.74 26.59 33.23" stroke="none">去发情标；</text></g>
<g transform="translate(91.00 639.86)" fill="#1a1a1a" aria-label="5.水壶未注尺寸公差按GB/T1804-V 。"><text transform="translate(0.00 0) scale(0.5035 1)" font-size="10.62" x="0.6 8.0" xml:space="preserve" stroke="none">5.</text><text transform="scale(1 1.355)" font-size="6.82" x="6.15 13.10 20.06 27.01 33.97 40.92 47.88 54.83 61.78" stroke="none">水壶未注尺寸公差按</text><text transform="translate(68.67 0) scale(0.5035 1)" font-size="10.62" x="-0.1 7.6 16.2 20.7 28.1 34.7 41.3 47.9 55.0 59.6 68.6" xml:space="preserve" stroke="none">GB/T1804-V </text><text transform="scale(1 1.355)" font-size="6.82" x="105.15" stroke="none">。</text></g>
<g transform="translate(652.70 399.00)" fill="#1a1a1a" aria-label="500±10"><text transform="translate(0.00 0) scale(0.5499 1)" font-size="12.12" x="0.7 8.2 15.7" xml:space="preserve" stroke="none">500</text><text transform="scale(1 1.241)" font-size="8.49" x="12.47" stroke="none">±</text><text transform="translate(21.05 0) scale(0.5499 1)" font-size="12.12" x="0.7 8.2" xml:space="preserve" stroke="none">10</text></g>
<g transform="translate(498.50 447.68)" fill="#1a1a1a" aria-label="282104-1  AMP插件"><text transform="translate(0.00 0) scale(0.6550 1)" font-size="10.25" x="0.6 7.0 13.3 19.7 26.0 32.3 39.2 44.3 51.4 56.8 60.6 67.4 76.4" xml:space="preserve" stroke="none">282104-1  AMP</text><text transform="scale(1 1.042)" font-size="8.55" x="54.13 62.86" stroke="none">插件</text></g>
<g transform="translate(626.00 451.31)" fill="#1a1a1a" aria-label="DJ7021Y-2.2-21（正耀插件）"><text transform="translate(0.00 0) scale(0.5980 1)" font-size="11.50" x="-0.1 9.2 15.4 22.6 29.7 36.8 43.2 52.7 58.4 66.4 71.5 79.2 85.0 92.1" xml:space="preserve" stroke="none">DJ7021Y-2.2-21</text><text transform="scale(1 1.142)" font-size="8.76" x="55.15 63.91 72.85 81.79 90.73 99.40" stroke="none">（正耀插件）</text></g>
<g transform="translate(484.40 489.79)" fill="#1a1a1a" aria-label="DJ7021Y-2.2-21（正耀插件）"><text transform="translate(0.00 0) scale(0.5723 1)" font-size="14.50" x="-0.1 11.6 19.5 28.5 37.4 46.4 54.4 66.4 73.7 83.7 90.2 99.8 107.1 116.1" xml:space="preserve" stroke="none">DJ7021Y-2.2-21</text><text transform="scale(1 1.193)" font-size="10.57" x="66.55 77.13 87.91 98.70 109.49 119.95" stroke="none">（正耀插件）</text></g>
<g transform="translate(528.00 537.82)" fill="#1a1a1a" aria-label="正极（红）"><text transform="scale(1 1.152)" font-size="8.49" x="0.09 8.75 13.68 22.17 30.56" stroke="none">正极（红）</text></g>
<g transform="translate(581.00 537.82)" fill="#1a1a1a" aria-label="负极（黑）"><text transform="scale(1 1.168)" font-size="8.37" x="0.09 8.62 13.49 21.85 30.13" stroke="none">负极（黑）</text></g>
<g transform="translate(695.90 490.69)" fill="#1a1a1a" aria-label="电机激光永久标识说明："><text transform="scale(1 1.324)" font-size="6.57" x="0.07 6.77 13.48 20.19 26.89 33.60 40.31 47.02 53.72 60.43 66.94" stroke="none">电机激光永久标识说明：</text></g>
<rect x="665.50" y="494.00" width="125.80" height="42.70" rx="0" stroke="#000" stroke-width="1.2" fill="none"/>
<g transform="translate(690.50 507.30)" fill="#1a1a1a" aria-label="DMC"><text transform="translate(0.00 0) scale(0.4640 1)" font-size="10.61" x="-0.1 6.9 15.9" xml:space="preserve" stroke="none">DMC</text></g>
<path d="M712.20 503.50L754.00 503.50" stroke="#000" stroke-width="1.0" />
<g transform="translate(754.40 507.30)" fill="#1a1a1a" aria-label="LOGO"><text transform="translate(0.00 0) scale(0.4051 1)" font-size="10.61" x="0.3 7.0 14.5 22.0" xml:space="preserve" stroke="none">LOGO</text></g>
<g transform="translate(676.30 517.50)" fill="#1a1a1a" aria-label="DF979-B/24V"><text transform="translate(0.00 0) scale(0.5133 1)" font-size="10.61" x="-0.1 8.0 15.0 21.5 28.1 35.2 40.0 48.5 53.4 60.0 65.8" xml:space="preserve" stroke="none">DF979-B/24V</text></g>
<path d="M716.00 514.50L754.00 514.50" stroke="#000" stroke-width="1.0" />
<g transform="translate(755.00 517.48)" fill="#1a1a1a" aria-label="标征"><text transform="scale(1 1.574)" font-size="5.59" x="0.06 5.76" stroke="none">标征</text></g>
<g transform="translate(678.40 527.70)" fill="#1a1a1a" aria-label="2021.11.01"><text transform="translate(0.00 0) scale(0.5385 1)" font-size="10.61" x="0.6 7.2 13.8 20.3 27.7 32.4 39.0 46.3 51.0 57.6" xml:space="preserve" stroke="none">2021.11.01</text></g>
<path d="M720.00 524.50L754.00 524.50" stroke="#000" stroke-width="1.0" />
<g transform="translate(755.00 527.68)" fill="#1a1a1a" aria-label="批次"><text transform="scale(1 1.574)" font-size="5.59" x="0.06 5.76" stroke="none">批次</text></g>
<path d="M484.00 559.80L900.00 559.80" stroke="#000" stroke-width="1.35" />
<path d="M484.60 559.80L484.60 660.00" stroke="#000" stroke-width="1.35" />
<path d="M484.60 571.50L624.20 571.50" stroke="#000" stroke-width="1.35" />
<path d="M484.60 583.40L624.20 583.40" stroke="#000" stroke-width="1.35" />
<path d="M484.60 595.10L624.20 595.10" stroke="#000" stroke-width="1.35" />
<path d="M484.60 606.80L624.20 606.80" stroke="#000" stroke-width="1.35" />
<path d="M484.60 618.30L763.40 618.30" stroke="#000" stroke-width="1.35" />
<path d="M503.20 559.80L503.20 618.30" stroke="#000" stroke-width="1.35" />
<path d="M519.50 559.80L519.50 618.30" stroke="#000" stroke-width="1.35" />
<path d="M566.20 559.80L566.20 618.30" stroke="#000" stroke-width="1.35" />
<path d="M600.90 559.80L600.90 618.30" stroke="#000" stroke-width="1.35" />
<path d="M624.20 559.80L624.20 660.00" stroke="#000" stroke-width="1.35" />
<path d="M484.60 629.90L624.20 629.90" stroke="#000" stroke-width="1.35" />
<path d="M484.60 641.80L624.20 641.80" stroke="#000" stroke-width="1.35" />
<path d="M484.60 652.90L624.20 652.90" stroke="#000" stroke-width="1.35" />
<path d="M519.50 618.30L519.50 660.00" stroke="#000" stroke-width="1.35" />
<path d="M554.40 618.30L554.40 660.00" stroke="#000" stroke-width="1.35" />
<path d="M589.40 618.30L589.40 660.00" stroke="#000" stroke-width="1.35" />
<path d="M624.20 632.00L763.40 632.00" stroke="#000" stroke-width="1.35" />
<path d="M624.20 650.70L763.40 650.70" stroke="#000" stroke-width="1.35" />
<path d="M641.30 632.00L641.30 650.70" stroke="#000" stroke-width="1.35" />
<path d="M659.10 632.00L659.10 650.70" stroke="#000" stroke-width="1.35" />
<path d="M676.50 632.00L676.50 650.70" stroke="#000" stroke-width="1.35" />
<path d="M693.40 618.30L693.40 660.00" stroke="#000" stroke-width="1.35" />
<path d="M716.90 618.30L716.90 650.70" stroke="#000" stroke-width="1.35" />
<path d="M740.40 618.30L740.40 650.70" stroke="#000" stroke-width="1.35" />
<path d="M763.40 559.80L763.40 660.00" stroke="#000" stroke-width="1.35" />
<path d="M763.40 594.80L900.00 594.80" stroke="#000" stroke-width="1.35" />
<path d="M763.40 629.40L900.00 629.40" stroke="#000" stroke-width="1.35" />
<g transform="translate(488.50 616.20)" fill="#1a1a1a" aria-label="标记"><text transform="scale(1 1.352)" font-size="6.27" x="0.06 6.46" stroke="none">标记</text></g>
<g transform="translate(505.80 616.20)" fill="#1a1a1a" aria-label="处数"><text transform="scale(1 1.545)" font-size="5.49" x="0.06 5.66" stroke="none">处数</text></g>
<g transform="translate(528.90 616.20)" fill="#1a1a1a" aria-label="更改文件名"><text transform="scale(1 1.504)" font-size="5.64" x="0.06 5.82 11.58 17.34 23.10" stroke="none">更改文件名</text></g>
<g transform="translate(575.10 616.20)" fill="#1a1a1a" aria-label="签"><text transform="scale(1 1.331)" font-size="6.37" x="0.07" stroke="none">签</text></g>
<g transform="translate(586.00 616.20)" fill="#1a1a1a" aria-label="字"><text transform="scale(1 1.352)" font-size="6.27" x="0.06" stroke="none">字</text></g>
<g transform="translate(605.70 616.20)" fill="#1a1a1a" aria-label="日"><text transform="scale(1 1.634)" font-size="5.19" x="0.05" stroke="none">日</text></g>
<g transform="translate(613.60 616.20)" fill="#1a1a1a" aria-label="期"><text transform="scale(1 1.545)" font-size="5.49" x="0.06" stroke="none">期</text></g>
<g transform="translate(493.90 627.40)" fill="#1a1a1a" aria-label="设"><text transform="scale(1 1.517)" font-size="5.59" x="0.06" stroke="none">设</text></g>
<g transform="translate(504.60 627.40)" fill="#1a1a1a" aria-label="计"><text transform="scale(1 1.545)" font-size="5.49" x="0.06" stroke="none">计</text></g>
<g transform="translate(525.90 627.41)" fill="#1a1a1a" aria-label="陈晓雷"><text transform="scale(1 1.395)" font-size="7.09" x="0.07 7.31 14.54" stroke="none">陈晓雷</text></g>
<path d="M526.00 628.50L547.60 628.50" stroke="#000" stroke-width="0.95" />
<g transform="translate(563.00 627.40)" fill="#1a1a1a" aria-label="标准化"><text transform="scale(1 1.493)" font-size="5.68" x="0.06 5.86 11.66" stroke="none">标准化</text></g>
<g transform="translate(493.90 650.91)" fill="#1a1a1a" aria-label="校"><text transform="scale(1 1.497)" font-size="5.59" x="0.06" stroke="none">校</text></g>
<g transform="translate(504.60 650.91)" fill="#1a1a1a" aria-label="对"><text transform="scale(1 1.525)" font-size="5.49" x="0.06" stroke="none">对</text></g>
<g transform="translate(563.00 650.91)" fill="#1a1a1a" aria-label="批"><text transform="scale(1 1.525)" font-size="5.49" x="0.06" stroke="none">批</text></g>
<g transform="translate(575.00 650.91)" fill="#1a1a1a" aria-label="准"><text transform="scale(1 1.474)" font-size="5.68" x="0.06" stroke="none">准</text></g>
<g transform="translate(493.90 662.50)" fill="#1a1a1a" aria-label="审"><text transform="scale(1 1.517)" font-size="5.59" x="0.06" stroke="none">审</text></g>
<g transform="translate(504.60 662.50)" fill="#1a1a1a" aria-label="核"><text transform="scale(1 1.545)" font-size="5.49" x="0.06" stroke="none">核</text></g>
<g transform="translate(563.00 662.50)" fill="#1a1a1a" aria-label="日"><text transform="scale(1 1.545)" font-size="5.49" x="0.06" stroke="none">日</text></g>
<g transform="translate(575.00 662.50)" fill="#1a1a1a" aria-label="期"><text transform="scale(1 1.493)" font-size="5.68" x="0.06" stroke="none">期</text></g>
<g transform="translate(593.80 663.00)" fill="#1a1a1a" aria-label="25.5.29"><text transform="translate(0.00 0) scale(0.5305 1)" font-size="11.36" x="0.7 7.7 15.6 20.6 28.5 33.5 40.6" xml:space="preserve" stroke="none">25.5.29</text></g>
<g transform="translate(665.00 595.60)" fill="#1a1a1a" aria-label="5207-00735"><text transform="translate(0.00 0) scale(0.4678 1)" font-size="20.00" x="1.2 13.6 26.0 38.3 51.7 61.8 74.1 86.5 98.9 111.3" xml:space="preserve" stroke="none">5207-00735</text></g>
<g transform="translate(637.80 628.98)" fill="#1a1a1a" aria-label="图"><text transform="scale(1 1.447)" font-size="6.08" x="0.06" stroke="none">图</text></g>
<g transform="translate(649.50 628.98)" fill="#1a1a1a" aria-label="样"><text transform="scale(1 1.472)" font-size="5.98" x="0.06" stroke="none">样</text></g>
<g transform="translate(661.00 628.98)" fill="#1a1a1a" aria-label="标"><text transform="scale(1 1.447)" font-size="6.08" x="0.06" stroke="none">标</text></g>
<g transform="translate(672.50 628.98)" fill="#1a1a1a" aria-label="记"><text transform="scale(1 1.447)" font-size="6.08" x="0.06" stroke="none">记</text></g>
<g transform="translate(696.40 628.98)" fill="#1a1a1a" aria-label="重"><text transform="scale(1 1.497)" font-size="5.88" x="0.06" stroke="none">重</text></g>
<g transform="translate(707.30 628.98)" fill="#1a1a1a" aria-label="量"><text transform="scale(1 1.497)" font-size="5.88" x="0.06" stroke="none">量</text></g>
<g transform="translate(722.80 628.98)" fill="#1a1a1a" aria-label="版本"><text transform="scale(1 1.633)" font-size="5.39" x="0.06 5.55" stroke="none">版本</text></g>
<g transform="translate(742.70 628.98)" fill="#1a1a1a" aria-label="比"><text transform="scale(1 1.522)" font-size="5.78" x="0.06" stroke="none">比</text></g>
<g transform="translate(754.40 628.98)" fill="#1a1a1a" aria-label="例"><text transform="scale(1 1.497)" font-size="5.88" x="0.06" stroke="none">例</text></g>
<g transform="translate(723.60 645.30)" fill="#1a1a1a" aria-label="A/0"><text transform="translate(0.00 0) scale(0.4654 1)" font-size="10.76" x="-0.1 9.0 14.0" xml:space="preserve" stroke="none">A/0</text></g>
<g transform="translate(744.40 645.30)" fill="#1a1a1a" aria-label="1:2.5"><text transform="translate(0.00 0) scale(0.4866 1)" font-size="10.76" x="0.6 8.0 13.0 20.4 25.2" xml:space="preserve" stroke="none">1:2.5</text></g>
<g transform="translate(639.60 661.30)" fill="#1a1a1a" aria-label="共"><text transform="scale(1 1.461)" font-size="5.88" x="0.06" stroke="none">共</text></g>
<g transform="translate(657.60 661.60)" fill="#1a1a1a" aria-label="1"><text transform="translate(0.00 0) scale(0.3045 1)" font-size="10.61" x="0.6" xml:space="preserve" stroke="none">1</text></g>
<g transform="translate(671.80 661.30)" fill="#1a1a1a" aria-label="张"><text transform="scale(1 1.461)" font-size="5.88" x="0.06" stroke="none">张</text></g>
<g transform="translate(709.80 661.30)" fill="#1a1a1a" aria-label="第"><text transform="scale(1 1.461)" font-size="5.88" x="0.06" stroke="none">第</text></g>
<g transform="translate(727.60 661.60)" fill="#1a1a1a" aria-label="1"><text transform="translate(0.00 0) scale(0.3045 1)" font-size="10.61" x="0.6" xml:space="preserve" stroke="none">1</text></g>
<g transform="translate(741.10 661.30)" fill="#1a1a1a" aria-label="张"><text transform="scale(1 1.461)" font-size="5.88" x="0.06" stroke="none">张</text></g>
<g transform="translate(776.00 584.01)" fill="#1a1a1a" aria-label="飞鹏车辆配件有限公司"><text transform="scale(1 1.384)" font-size="11.15" x="0.11 11.49 22.87 34.25 45.63 57.01 68.39 79.77 91.15 102.53" stroke="none">飞鹏车辆配件有限公司</text></g>
<g transform="translate(810.00 618.02)" fill="#1a1a1a" aria-label="XI型 24V"><text transform="translate(0.00 0) scale(0.5173 1)" font-size="17.50" x="-0.1 14.3" xml:space="preserve" stroke="none">XI</text><text transform="scale(1 1.320)" font-size="11.53" x="11.53" stroke="none">型</text><text transform="translate(23.18 0) scale(0.5173 1)" font-size="17.50" x="2.3 10.1 20.9 30.6" xml:space="preserve" stroke="none"> 24V</text></g>
<g transform="translate(813.00 654.00)" fill="#1a1a1a" aria-label="XDQ131L"><text transform="translate(0.00 0) scale(0.4367 1)" font-size="19.70" x="-0.1 13.9 27.8 43.1 55.3 67.5 79.0" xml:space="preserve" stroke="none">XDQ131L</text></g>
</svg>
</body></html>
